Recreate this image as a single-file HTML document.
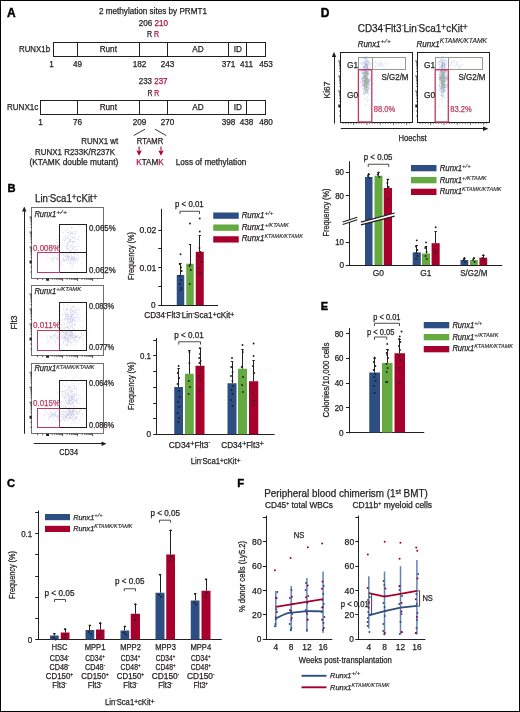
<!DOCTYPE html>
<html><head><meta charset="utf-8"><style>
html,body{margin:0;padding:0;background:#fff;}
body{width:520px;height:712px;overflow:hidden;}
svg{display:block;font-family:"Liberation Sans",sans-serif;will-change:transform;}
</style></head><body>
<svg width="520" height="712" viewBox="0 0 520 712" fill="#231f20">
<rect x="0" y="0" width="520" height="712" fill="#fff"/>
<text x="7.00" y="17.20" font-size="12" fill="#000" font-weight="bold" stroke="#000" stroke-width="0.4">A</text>
<text x="99.00" y="14.00" font-size="8.2" textLength="108.00" lengthAdjust="spacingAndGlyphs" stroke="#231f20" stroke-width="0.25">2 methylation sites by PRMT1</text>
<text x="138.75" y="25.90" font-size="8.2" textLength="29.25" lengthAdjust="spacingAndGlyphs" stroke="#231f20" stroke-width="0.25">206 <tspan fill="#b3123f" stroke="#b3123f">210</tspan></text>
<text x="147.00" y="37.40" font-size="8.2" textLength="12.25" lengthAdjust="spacingAndGlyphs" stroke="#231f20" stroke-width="0.25">R <tspan fill="#b3123f" stroke="#b3123f">R</tspan></text>
<rect x="53.50" y="42.50" width="212.00" height="14.00" fill="none" stroke="#231f20" stroke-width="1"/>
<line x1="77.50" y1="42.50" x2="77.50" y2="56.50" stroke="#231f20" stroke-width="1"/>
<line x1="139.50" y1="42.50" x2="139.50" y2="56.50" stroke="#231f20" stroke-width="1"/>
<line x1="167.50" y1="42.50" x2="167.50" y2="56.50" stroke="#231f20" stroke-width="1"/>
<line x1="228.50" y1="42.50" x2="228.50" y2="56.50" stroke="#231f20" stroke-width="1"/>
<line x1="246.50" y1="42.50" x2="246.50" y2="56.50" stroke="#231f20" stroke-width="1"/>
<text x="19.00" y="52.40" font-size="8.2" textLength="31.00" lengthAdjust="spacingAndGlyphs" stroke="#231f20" stroke-width="0.25">RUNX1b</text>
<text x="108.30" y="52.00" font-size="8.2" text-anchor="middle" stroke="#231f20" stroke-width="0.25">Runt</text>
<text x="198.00" y="52.00" font-size="8.2" text-anchor="middle" stroke="#231f20" stroke-width="0.25">AD</text>
<text x="237.80" y="52.00" font-size="8.2" text-anchor="middle" stroke="#231f20" stroke-width="0.25">ID</text>
<text x="51.50" y="66.90" font-size="8.2" text-anchor="middle" stroke="#231f20" stroke-width="0.25">1</text>
<text x="77.50" y="66.90" font-size="8.2" text-anchor="middle" stroke="#231f20" stroke-width="0.25">49</text>
<text x="139.50" y="66.90" font-size="8.2" text-anchor="middle" stroke="#231f20" stroke-width="0.25">182</text>
<text x="167.50" y="66.90" font-size="8.2" text-anchor="middle" stroke="#231f20" stroke-width="0.25">243</text>
<text x="228.50" y="66.90" font-size="8.2" text-anchor="middle" stroke="#231f20" stroke-width="0.25">371</text>
<text x="246.50" y="66.90" font-size="8.2" text-anchor="middle" stroke="#231f20" stroke-width="0.25">411</text>
<text x="266.00" y="66.90" font-size="8.2" text-anchor="middle" stroke="#231f20" stroke-width="0.25">453</text>
<text x="138.75" y="83.60" font-size="8.2" textLength="28.75" lengthAdjust="spacingAndGlyphs" stroke="#231f20" stroke-width="0.25">233 <tspan fill="#b3123f" stroke="#b3123f">237</tspan></text>
<text x="147.50" y="95.50" font-size="8.2" textLength="11.75" lengthAdjust="spacingAndGlyphs" stroke="#231f20" stroke-width="0.25">R <tspan fill="#b3123f" stroke="#b3123f">R</tspan></text>
<rect x="40.50" y="100.50" width="225.00" height="14.00" fill="none" stroke="#231f20" stroke-width="1"/>
<line x1="77.50" y1="100.50" x2="77.50" y2="114.50" stroke="#231f20" stroke-width="1"/>
<line x1="139.50" y1="100.50" x2="139.50" y2="114.50" stroke="#231f20" stroke-width="1"/>
<line x1="167.50" y1="100.50" x2="167.50" y2="114.50" stroke="#231f20" stroke-width="1"/>
<line x1="228.50" y1="100.50" x2="228.50" y2="114.50" stroke="#231f20" stroke-width="1"/>
<line x1="246.50" y1="100.50" x2="246.50" y2="114.50" stroke="#231f20" stroke-width="1"/>
<text x="7.00" y="110.20" font-size="8.2" textLength="31.25" lengthAdjust="spacingAndGlyphs" stroke="#231f20" stroke-width="0.25">RUNX1c</text>
<text x="108.30" y="110.00" font-size="8.2" text-anchor="middle" stroke="#231f20" stroke-width="0.25">Runt</text>
<text x="198.00" y="110.00" font-size="8.2" text-anchor="middle" stroke="#231f20" stroke-width="0.25">AD</text>
<text x="237.80" y="110.00" font-size="8.2" text-anchor="middle" stroke="#231f20" stroke-width="0.25">ID</text>
<text x="40.50" y="124.60" font-size="8.2" text-anchor="middle" stroke="#231f20" stroke-width="0.25">1</text>
<text x="77.50" y="124.60" font-size="8.2" text-anchor="middle" stroke="#231f20" stroke-width="0.25">76</text>
<text x="139.50" y="124.60" font-size="8.2" text-anchor="middle" stroke="#231f20" stroke-width="0.25">209</text>
<text x="167.50" y="124.60" font-size="8.2" text-anchor="middle" stroke="#231f20" stroke-width="0.25">270</text>
<text x="228.50" y="124.60" font-size="8.2" text-anchor="middle" stroke="#231f20" stroke-width="0.25">398</text>
<text x="246.50" y="124.60" font-size="8.2" text-anchor="middle" stroke="#231f20" stroke-width="0.25">438</text>
<text x="266.00" y="124.60" font-size="8.2" text-anchor="middle" stroke="#231f20" stroke-width="0.25">480</text>
<line x1="133.75" y1="135.50" x2="145.00" y2="129.25" stroke="#231f20" stroke-width="0.9"/>
<line x1="155.00" y1="129.25" x2="166.25" y2="135.50" stroke="#231f20" stroke-width="0.9"/>
<text x="118.25" y="144.10" font-size="8.2" text-anchor="end" textLength="37.00" lengthAdjust="spacingAndGlyphs" stroke="#231f20" stroke-width="0.25">RUNX1 wt</text>
<text x="136.75" y="144.10" font-size="8.2" textLength="26.50" lengthAdjust="spacingAndGlyphs" stroke="#231f20" stroke-width="0.25">RTAMR</text>
<text x="35.00" y="155.10" font-size="8.2" textLength="80.00" lengthAdjust="spacingAndGlyphs" stroke="#231f20" stroke-width="0.25">RUNX1 R233K/R237K</text>
<text x="29.50" y="164.80" font-size="8.2" textLength="88.75" lengthAdjust="spacingAndGlyphs" stroke="#231f20" stroke-width="0.25">(KTAMK double mutant)</text>
<text x="136.25" y="164.80" font-size="8.2" textLength="27.50" lengthAdjust="spacingAndGlyphs" stroke="#231f20" stroke-width="0.25"><tspan fill="#b3123f" stroke="#b3123f">K</tspan>TAM<tspan fill="#b3123f" stroke="#b3123f">K</tspan></text>
<text x="175.75" y="164.80" font-size="8.2" textLength="70.50" lengthAdjust="spacingAndGlyphs" stroke="#231f20" stroke-width="0.25">Loss of methylation</text>
<line x1="139.10" y1="146.60" x2="139.10" y2="152.00" stroke="#b8304e" stroke-width="1.3"/>
<path d="M136.30 150.2 L139.10 155.8 L141.90 150.2 L139.10 151.6 Z" fill="#a8002c"/>
<line x1="161.00" y1="146.60" x2="161.00" y2="152.00" stroke="#b8304e" stroke-width="1.3"/>
<path d="M158.20 150.2 L161.00 155.8 L163.80 150.2 L161.00 151.6 Z" fill="#a8002c"/>
<text x="7.50" y="191.80" font-size="11.2" fill="#000" font-weight="bold" stroke="#000" stroke-width="0.4">B</text>
<text x="35.00" y="201.80" font-size="10" textLength="62.50" lengthAdjust="spacingAndGlyphs" stroke="#231f20" stroke-width="0.25"><tspan dy="-0.00">Lin</tspan><tspan dy="-4.00" font-size="5.50">-</tspan><tspan dy="4.00">Sca1</tspan><tspan dy="-2.00" font-size="8.40">+</tspan><tspan dy="2.00">cKit</tspan><tspan dy="-2.00" font-size="8.40">+</tspan></text>
<rect x="31.50" y="207.50" width="72.00" height="71.00" fill="none" stroke="#707070" stroke-width="1"/>
<path d="M31.75 267.00h-1.5 M31.75 272.00h-1.5 M31.75 257.48h-1.3 M31.75 254.84h-1.3 M31.75 252.97h-1.3 M31.75 251.52h-1.3 M31.75 250.33h-1.3 M31.75 249.32h-1.3 M31.75 248.45h-1.3 M31.75 247.69h-1.3 M31.75 247.00h-2.5 M31.75 242.48h-1.3 M31.75 239.84h-1.3 M31.75 237.97h-1.3 M31.75 236.52h-1.3 M31.75 235.33h-1.3 M31.75 234.32h-1.3 M31.75 233.45h-1.3 M31.75 232.69h-1.3 M31.75 232.00h-2.5 M31.75 227.48h-1.3 M31.75 224.84h-1.3 M31.75 222.97h-1.3 M31.75 221.52h-1.3 M31.75 220.33h-1.3 M31.75 219.32h-1.3 M31.75 218.45h-1.3 M31.75 217.69h-1.3 M31.75 217.00h-2.5 M42.60 278.50v1.5 M37.60 278.50v1.5 M52.12 278.50v1.3 M54.76 278.50v1.3 M56.63 278.50v1.3 M58.08 278.50v1.3 M59.27 278.50v1.3 M60.28 278.50v1.3 M61.15 278.50v1.3 M61.91 278.50v1.3 M62.60 278.50v2.5 M67.12 278.50v1.3 M69.76 278.50v1.3 M71.63 278.50v1.3 M73.08 278.50v1.3 M74.27 278.50v1.3 M75.28 278.50v1.3 M76.15 278.50v1.3 M76.91 278.50v1.3 M77.60 278.50v2.5 M82.12 278.50v1.3 M84.76 278.50v1.3 M86.63 278.50v1.3 M88.08 278.50v1.3 M89.27 278.50v1.3 M90.28 278.50v1.3 M91.15 278.50v1.3 M91.91 278.50v1.3 M92.60 278.50v2.5" stroke="#231f20" stroke-width="0.7" fill="none"/>
<path d="M29.55 260.50h2.2v3h-2.2z M46.10 278.50h3v2.2h-3z" fill="#231f20"/>
<path d="M75.30 250.65h0.7 M69.80 235.15h0.7 M64.59 240.72h0.7 M64.90 230.44h0.7 M70.40 241.43h0.7 M71.96 234.10h0.7 M69.52 240.05h0.7 M62.72 244.27h0.7 M70.94 257.22h0.7 M70.41 239.49h0.7 M75.05 241.89h0.7 M73.59 237.94h0.7 M70.48 247.67h0.7 M72.63 241.40h0.7 M64.63 243.62h0.7 M69.85 245.54h0.7 M70.47 248.12h0.7 M69.27 241.91h0.7 M72.50 232.89h0.7 M67.69 237.00h0.7 M78.41 239.85h0.7 M72.43 244.84h0.7 M68.24 229.64h0.7 M73.84 237.65h0.7 M72.73 231.36h0.7 M67.53 249.30h0.7 M75.94 231.38h0.7 M63.50 240.19h0.7 M72.78 241.62h0.7 M70.87 233.58h0.7 M72.14 248.32h0.7 M67.54 230.47h0.7 M66.09 245.83h0.7 M61.70 239.86h0.7 M65.04 239.58h0.7 M68.40 240.61h0.7 M76.26 243.44h0.7 M75.50 239.51h0.7 M67.34 243.15h0.7 M56.74 240.22h0.7 M70.22 231.85h0.7 M71.59 236.59h0.7 M58.43 239.01h0.7 M65.10 236.86h0.7 M68.81 249.26h0.7 M69.96 240.30h0.7 M71.25 227.82h0.7 M75.08 232.96h0.7 M71.48 232.61h0.7 M65.11 237.73h0.7 M78.03 245.38h0.7 M66.78 238.51h0.7 M64.32 240.26h0.7 M66.92 245.55h0.7 M63.39 238.16h0.7 M65.71 235.47h0.7 M72.70 241.38h0.7 M72.13 248.82h0.7 M74.67 230.90h0.7 M71.92 228.17h0.7 M69.21 253.93h0.7 M68.63 237.92h0.7 M70.27 240.63h0.7 M69.62 235.20h0.7 M74.37 246.72h0.7 M68.54 242.70h0.7 M72.46 247.73h0.7 M71.27 245.37h0.7 M68.32 233.01h0.7 M67.27 247.63h0.7 M73.90 241.52h0.7 M66.95 242.65h0.7 M76.99 249.98h0.7 M66.42 240.20h0.7 M62.97 232.55h0.7 M70.35 240.67h0.7 M73.84 249.37h0.7 M73.26 249.74h0.7 M67.04 232.60h0.7 M71.75 259.25h0.7 M71.11 232.44h0.7 M70.59 250.48h0.7 M64.85 246.12h0.7 M66.75 249.41h0.7 M73.03 242.63h0.7 M78.50 237.64h0.7 M66.41 253.48h0.7 M65.56 255.89h0.7 M69.32 233.24h0.7 M69.49 241.41h0.7 M70.41 239.16h0.7 M74.37 224.26h0.7 M67.00 238.66h0.7 M77.69 226.55h0.7 M67.97 232.50h0.7 M66.51 244.98h0.7 M71.35 250.58h0.7 M66.80 242.38h0.7 M74.78 246.82h0.7 M67.99 248.40h0.7 M65.34 253.12h0.7 M70.19 239.71h0.7 M70.72 246.44h0.7 M77.34 239.51h0.7 M67.85 244.61h0.7 M65.58 228.63h0.7 M73.26 237.84h0.7 M74.57 233.31h0.7 M56.47 242.48h0.7 M70.20 251.70h0.7 M71.86 242.67h0.7 M72.14 237.93h0.7 M69.85 231.04h0.7 M71.84 234.86h0.7 M67.49 245.40h0.7 M73.62 233.45h0.7 M78.52 236.36h0.7 M73.26 247.16h0.7 M70.51 241.71h0.7 M77.59 246.73h0.7 M71.50 227.73h0.7 M66.14 248.64h0.7 M70.37 233.81h0.7 M66.61 238.36h0.7 M72.59 243.21h0.7 M73.99 234.78h0.7 M73.94 236.99h0.7 M68.15 252.63h0.7 M69.83 239.52h0.7 M68.55 237.81h0.7 M76.52 250.14h0.7 M72.73 241.79h0.7" stroke="#5a66c4" stroke-width="0.7" opacity="0.42"/>
<path d="M82.36 256.48h0.7 M71.67 259.31h0.7 M74.09 253.89h0.7 M67.22 256.17h0.7 M63.59 255.85h0.7 M66.68 257.80h0.7 M64.51 260.28h0.7 M66.49 247.61h0.7 M76.05 257.43h0.7 M65.41 259.74h0.7 M70.76 258.98h0.7 M64.80 259.47h0.7 M61.04 263.85h0.7 M62.54 258.08h0.7 M69.61 259.57h0.7 M68.14 260.49h0.7 M49.51 257.98h0.7 M67.91 256.83h0.7 M77.20 254.93h0.7 M68.33 251.22h0.7 M70.29 252.64h0.7 M60.10 266.63h0.7 M72.67 258.31h0.7 M69.72 253.25h0.7 M62.94 259.83h0.7 M57.01 259.30h0.7 M59.12 258.77h0.7 M62.58 264.56h0.7 M74.44 256.51h0.7 M58.23 255.55h0.7 M68.46 254.81h0.7 M70.36 261.85h0.7 M68.47 256.80h0.7 M73.14 257.29h0.7 M73.52 257.21h0.7 M77.80 257.35h0.7 M62.86 258.69h0.7 M65.25 255.01h0.7 M68.08 261.01h0.7 M56.71 258.19h0.7 M67.94 257.83h0.7 M73.29 253.71h0.7 M72.50 257.55h0.7 M69.44 257.58h0.7 M66.98 256.51h0.7 M71.14 265.87h0.7 M74.75 261.43h0.7 M72.00 256.72h0.7 M72.29 265.79h0.7 M61.77 261.39h0.7 M74.61 259.46h0.7 M73.38 263.41h0.7 M81.36 263.13h0.7 M78.28 259.70h0.7 M73.69 259.16h0.7 M70.75 256.91h0.7 M72.91 263.71h0.7 M68.27 259.48h0.7 M72.65 258.67h0.7 M74.42 259.53h0.7 M62.71 254.98h0.7 M73.28 260.87h0.7 M75.39 259.53h0.7 M70.40 253.08h0.7 M77.04 255.41h0.7 M75.08 254.64h0.7 M65.63 259.23h0.7 M66.95 256.21h0.7 M74.30 261.08h0.7 M71.53 257.51h0.7 M64.77 257.02h0.7 M66.45 258.62h0.7 M73.62 258.12h0.7 M64.99 256.54h0.7 M76.48 259.31h0.7 M70.69 259.72h0.7 M72.69 259.23h0.7 M75.93 261.62h0.7 M53.77 258.28h0.7 M85.75 254.26h0.7 M70.16 262.57h0.7 M69.46 263.48h0.7 M62.48 254.38h0.7 M68.43 256.19h0.7 M63.55 260.79h0.7 M70.98 258.83h0.7 M67.26 259.72h0.7 M68.83 256.24h0.7 M72.32 260.10h0.7 M69.95 261.23h0.7 M63.41 258.29h0.7 M66.61 263.47h0.7 M72.30 266.21h0.7 M78.15 257.50h0.7 M63.48 260.49h0.7 M67.94 258.25h0.7 M63.66 260.90h0.7 M70.52 260.21h0.7 M71.21 255.64h0.7 M57.18 257.85h0.7 M66.00 256.95h0.7 M74.78 258.45h0.7 M77.80 259.44h0.7 M73.28 260.58h0.7 M73.93 254.39h0.7 M75.50 259.18h0.7 M64.13 260.95h0.7 M71.40 263.31h0.7" stroke="#5a66c4" stroke-width="0.7" opacity="0.42"/>
<path d="M53.38 262.93h0.7 M49.27 262.28h0.7 M51.96 259.15h0.7 M60.60 260.19h0.7 M52.83 261.62h0.7 M57.51 259.72h0.7 M55.35 257.37h0.7 M51.53 258.70h0.7 M47.67 256.03h0.7 M46.49 259.20h0.7 M52.31 259.00h0.7 M53.28 256.46h0.7 M52.68 260.40h0.7 M56.00 257.68h0.7 M51.40 254.76h0.7" stroke="#5a66c4" stroke-width="0.7" opacity="0.4"/>
<path d="M70.16 258.09h0.7 M68.16 257.42h0.7 M73.70 257.77h0.7 M76.25 249.99h0.7 M70.27 251.07h0.7 M66.87 254.20h0.7 M70.89 257.81h0.7 M72.03 268.70h0.7 M73.45 245.73h0.7 M70.82 251.56h0.7 M67.94 263.14h0.7 M69.11 243.59h0.7 M71.24 253.55h0.7 M65.30 249.77h0.7 M67.50 255.16h0.7" stroke="#d09060" stroke-width="0.7" opacity="0.4"/>
<rect x="59.50" y="224.50" width="27.00" height="48.00" fill="none" stroke="#231f20" stroke-width="1"/>
<line x1="59.25" y1="252.50" x2="86.75" y2="252.50" stroke="#231f20" stroke-width="1"/>
<rect x="37.50" y="252.50" width="22.00" height="20.00" fill="none" stroke="#bf3a5e" stroke-width="1"/>
<text x="34.40" y="216.70" font-size="8.2" textLength="21.80" lengthAdjust="spacingAndGlyphs" font-style="italic" stroke="#231f20" stroke-width="0.25">Runx1</text>
<text x="56.20" y="213.80" font-size="5.8" textLength="11.00" lengthAdjust="spacingAndGlyphs" font-style="italic" stroke="#231f20" stroke-width="0.12">+/+</text>
<text x="89.00" y="230.80" font-size="8.2" textLength="26.70" lengthAdjust="spacingAndGlyphs" stroke="#231f20" stroke-width="0.25">0.065%</text>
<text x="33.00" y="250.60" font-size="8.2" fill="#bf3a5e" textLength="27.00" lengthAdjust="spacingAndGlyphs" stroke="#bf3a5e" stroke-width="0.25">0.008%</text>
<text x="89.00" y="272.60" font-size="8.2" textLength="26.70" lengthAdjust="spacingAndGlyphs" stroke="#231f20" stroke-width="0.25">0.062%</text>
<rect x="31.50" y="285.50" width="72.00" height="70.00" fill="none" stroke="#707070" stroke-width="1"/>
<path d="M31.75 344.00h-1.5 M31.75 349.00h-1.5 M31.75 334.48h-1.3 M31.75 331.84h-1.3 M31.75 329.97h-1.3 M31.75 328.52h-1.3 M31.75 327.33h-1.3 M31.75 326.32h-1.3 M31.75 325.45h-1.3 M31.75 324.69h-1.3 M31.75 324.00h-2.5 M31.75 319.48h-1.3 M31.75 316.84h-1.3 M31.75 314.97h-1.3 M31.75 313.52h-1.3 M31.75 312.33h-1.3 M31.75 311.32h-1.3 M31.75 310.45h-1.3 M31.75 309.69h-1.3 M31.75 309.00h-2.5 M31.75 304.48h-1.3 M31.75 301.84h-1.3 M31.75 299.97h-1.3 M31.75 298.52h-1.3 M31.75 297.33h-1.3 M31.75 296.32h-1.3 M31.75 295.45h-1.3 M31.75 294.69h-1.3 M31.75 294.00h-2.5 M42.60 355.50v1.5 M37.60 355.50v1.5 M52.12 355.50v1.3 M54.76 355.50v1.3 M56.63 355.50v1.3 M58.08 355.50v1.3 M59.27 355.50v1.3 M60.28 355.50v1.3 M61.15 355.50v1.3 M61.91 355.50v1.3 M62.60 355.50v2.5 M67.12 355.50v1.3 M69.76 355.50v1.3 M71.63 355.50v1.3 M73.08 355.50v1.3 M74.27 355.50v1.3 M75.28 355.50v1.3 M76.15 355.50v1.3 M76.91 355.50v1.3 M77.60 355.50v2.5 M82.12 355.50v1.3 M84.76 355.50v1.3 M86.63 355.50v1.3 M88.08 355.50v1.3 M89.27 355.50v1.3 M90.28 355.50v1.3 M91.15 355.50v1.3 M91.91 355.50v1.3 M92.60 355.50v2.5" stroke="#231f20" stroke-width="0.7" fill="none"/>
<path d="M29.55 337.50h2.2v3h-2.2z M46.10 355.50h3v2.2h-3z" fill="#231f20"/>
<path d="M69.68 321.75h0.7 M67.43 320.97h0.7 M73.67 321.38h0.7 M76.53 312.30h0.7 M69.80 313.56h0.7 M65.97 317.21h0.7 M70.50 321.43h0.7 M71.79 334.14h0.7 M73.38 307.34h0.7 M70.42 314.14h0.7 M67.18 327.64h0.7 M68.50 304.84h0.7 M70.90 316.46h0.7 M64.22 312.05h0.7 M66.69 318.34h0.7 M67.58 319.00h0.7 M77.76 312.90h0.7 M65.87 316.76h0.7 M74.43 313.56h0.7 M75.95 309.34h0.7 M64.85 318.12h0.7 M65.61 314.17h0.7 M71.53 323.57h0.7 M70.01 316.58h0.7 M75.55 321.32h0.7 M68.44 327.00h0.7 M65.44 319.65h0.7 M72.47 318.42h0.7 M66.91 320.95h0.7 M67.07 314.33h0.7 M64.90 327.63h0.7 M67.03 326.58h0.7 M71.21 316.67h0.7 M72.50 320.41h0.7 M70.09 308.87h0.7 M69.82 324.76h0.7 M71.69 325.47h0.7 M76.21 321.38h0.7 M78.39 307.91h0.7 M68.42 300.83h0.7 M73.19 319.16h0.7 M77.10 315.94h0.7 M60.38 327.45h0.7 M63.46 309.63h0.7 M68.71 322.89h0.7 M67.21 319.80h0.7 M61.04 330.61h0.7 M69.20 319.34h0.7 M72.14 319.69h0.7 M70.40 312.00h0.7 M68.99 321.56h0.7 M74.20 317.66h0.7 M69.91 320.86h0.7 M72.07 319.95h0.7 M68.36 314.93h0.7 M74.56 320.57h0.7 M69.59 342.84h0.7 M73.47 324.47h0.7 M70.19 311.40h0.7 M74.61 317.88h0.7 M69.74 325.69h0.7 M74.08 320.18h0.7 M69.58 333.19h0.7 M72.08 311.32h0.7 M72.88 319.56h0.7 M69.65 323.28h0.7 M70.56 332.54h0.7 M70.42 320.27h0.7 M74.73 314.55h0.7 M74.06 318.08h0.7 M74.83 312.56h0.7 M71.39 307.31h0.7 M67.51 318.61h0.7 M71.73 332.32h0.7 M77.77 309.13h0.7 M66.09 327.26h0.7 M71.48 308.94h0.7 M71.68 310.62h0.7 M65.64 309.70h0.7 M68.33 334.24h0.7 M71.20 317.75h0.7 M80.81 315.27h0.7 M68.83 316.66h0.7 M71.39 316.33h0.7 M76.05 316.46h0.7 M72.03 320.07h0.7 M65.64 311.68h0.7 M69.27 302.47h0.7 M69.57 319.06h0.7 M70.15 317.97h0.7 M71.09 316.07h0.7 M72.39 307.12h0.7 M73.60 312.35h0.7 M71.68 315.26h0.7 M67.59 312.98h0.7 M75.53 310.91h0.7 M64.09 320.02h0.7 M70.67 318.80h0.7 M65.18 313.96h0.7 M73.57 311.30h0.7 M72.25 323.59h0.7 M70.10 310.03h0.7 M78.06 319.38h0.7 M70.39 315.89h0.7 M65.25 316.65h0.7 M70.40 312.62h0.7 M70.03 326.54h0.7 M71.47 317.84h0.7 M74.22 324.92h0.7 M73.55 312.96h0.7 M61.37 324.07h0.7 M69.78 315.93h0.7 M71.68 315.36h0.7 M66.74 331.11h0.7 M62.38 324.36h0.7 M74.05 330.88h0.7 M70.64 322.06h0.7 M65.41 318.73h0.7 M60.09 314.56h0.7 M69.38 317.78h0.7 M67.36 326.63h0.7 M62.39 319.44h0.7 M67.72 318.77h0.7 M69.75 332.07h0.7 M64.73 327.85h0.7 M75.79 317.62h0.7 M66.76 309.90h0.7 M65.65 332.76h0.7 M59.80 321.67h0.7 M66.40 331.72h0.7 M70.92 309.11h0.7 M67.18 319.87h0.7 M70.06 311.92h0.7 M68.24 315.31h0.7 M71.68 320.43h0.7 M70.52 314.42h0.7 M73.04 314.60h0.7 M65.79 315.51h0.7 M68.05 316.37h0.7 M60.86 327.94h0.7 M72.30 327.72h0.7 M67.74 323.75h0.7 M70.40 318.70h0.7 M77.54 314.38h0.7 M72.08 306.45h0.7 M72.03 317.31h0.7 M64.96 314.37h0.7 M60.01 311.11h0.7 M70.26 300.13h0.7 M74.35 325.31h0.7 M66.14 308.17h0.7 M63.23 309.59h0.7 M66.14 333.67h0.7 M64.44 323.76h0.7 M75.10 311.91h0.7 M68.31 323.21h0.7 M66.57 327.21h0.7 M79.13 318.17h0.7 M65.81 322.66h0.7 M71.01 313.29h0.7 M68.88 319.10h0.7 M71.76 326.48h0.7 M67.33 309.44h0.7 M62.23 331.45h0.7 M67.63 315.65h0.7 M80.56 326.30h0.7 M79.58 317.30h0.7 M66.41 314.82h0.7 M72.42 321.44h0.7 M71.30 334.32h0.7 M75.59 310.91h0.7 M71.47 322.65h0.7 M66.17 334.71h0.7 M73.62 329.08h0.7 M67.11 310.51h0.7 M72.90 317.12h0.7 M66.90 317.87h0.7 M70.44 319.52h0.7 M68.57 321.76h0.7 M82.56 326.73h0.7 M67.20 332.77h0.7 M67.33 307.66h0.7 M63.26 304.19h0.7 M74.68 310.78h0.7 M63.06 314.54h0.7 M68.56 309.75h0.7 M66.90 318.44h0.7 M72.39 311.82h0.7 M71.99 320.25h0.7 M71.94 314.69h0.7 M64.21 325.19h0.7 M72.09 313.73h0.7 M65.92 323.29h0.7 M78.56 321.01h0.7 M80.84 320.62h0.7 M71.01 321.84h0.7 M74.37 307.89h0.7 M70.14 327.33h0.7 M62.41 320.13h0.7 M72.83 330.51h0.7 M76.54 318.25h0.7 M78.82 310.68h0.7 M63.16 327.83h0.7 M72.51 310.45h0.7 M74.39 324.57h0.7 M72.76 315.35h0.7 M63.71 306.60h0.7 M68.50 317.37h0.7 M67.16 314.53h0.7 M73.66 310.47h0.7 M66.12 332.42h0.7 M66.60 313.99h0.7 M74.29 305.76h0.7 M76.80 309.48h0.7 M65.70 309.41h0.7 M65.14 313.26h0.7 M73.69 317.99h0.7 M75.70 323.92h0.7 M63.85 318.61h0.7 M66.71 315.44h0.7" stroke="#5a66c4" stroke-width="0.7" opacity="0.42"/>
<path d="M63.02 332.98h0.7 M73.18 328.97h0.7 M68.71 329.10h0.7 M75.56 337.71h0.7 M76.96 335.24h0.7 M71.69 336.00h0.7 M65.44 337.51h0.7 M62.59 335.76h0.7 M73.33 337.20h0.7 M67.24 344.66h0.7 M69.82 334.95h0.7 M70.38 335.17h0.7 M67.38 335.77h0.7 M80.64 337.08h0.7 M70.47 339.36h0.7 M80.59 336.22h0.7 M66.07 345.66h0.7 M61.47 335.71h0.7 M73.17 344.99h0.7 M64.28 328.50h0.7 M73.14 335.17h0.7 M67.37 338.61h0.7 M70.73 338.02h0.7 M67.13 341.51h0.7 M77.78 337.11h0.7 M67.01 339.57h0.7 M72.13 333.36h0.7 M66.97 340.67h0.7 M68.97 335.85h0.7 M70.67 336.88h0.7 M69.49 330.24h0.7 M79.12 337.70h0.7 M64.68 340.43h0.7 M71.20 337.06h0.7 M75.26 344.91h0.7 M72.54 342.55h0.7 M81.37 333.43h0.7 M66.62 339.72h0.7 M60.11 336.06h0.7 M76.61 340.65h0.7 M72.69 330.37h0.7 M82.43 338.93h0.7 M73.72 338.73h0.7 M60.06 331.98h0.7 M62.81 343.71h0.7 M64.93 336.15h0.7 M68.10 339.00h0.7 M72.25 337.94h0.7 M62.56 326.01h0.7 M70.42 337.94h0.7 M76.27 336.64h0.7 M66.14 338.44h0.7 M60.95 333.35h0.7 M63.97 338.01h0.7 M81.00 339.67h0.7 M75.78 337.83h0.7 M71.03 335.43h0.7 M67.95 328.50h0.7 M62.89 332.50h0.7 M74.10 339.32h0.7 M75.78 342.45h0.7 M67.82 340.69h0.7 M80.26 336.97h0.7 M75.48 336.42h0.7 M60.63 337.42h0.7 M64.98 337.38h0.7 M66.95 338.12h0.7 M57.75 344.29h0.7 M76.98 335.77h0.7 M64.50 337.01h0.7 M73.22 338.48h0.7 M71.71 330.11h0.7 M63.28 341.70h0.7 M70.82 331.68h0.7 M64.72 331.93h0.7 M63.88 341.13h0.7 M68.28 340.96h0.7 M70.54 331.68h0.7 M65.89 345.13h0.7 M65.23 333.27h0.7 M76.40 337.32h0.7 M69.46 342.22h0.7 M59.64 338.49h0.7 M63.59 332.00h0.7 M64.94 341.11h0.7 M68.71 330.45h0.7 M63.28 342.45h0.7 M75.25 333.10h0.7 M83.12 335.69h0.7 M62.79 336.51h0.7 M74.76 342.76h0.7 M75.29 335.47h0.7 M66.34 331.79h0.7 M69.08 334.87h0.7 M70.88 332.47h0.7 M66.59 333.85h0.7 M62.73 332.76h0.7 M63.77 332.77h0.7 M72.70 337.36h0.7 M62.07 338.84h0.7 M71.12 342.23h0.7 M68.41 336.25h0.7 M65.62 337.45h0.7 M72.28 337.63h0.7 M68.07 339.02h0.7 M70.02 337.88h0.7 M64.25 337.74h0.7 M63.89 333.98h0.7 M70.41 344.54h0.7 M75.11 337.01h0.7 M68.49 340.54h0.7 M77.28 341.37h0.7 M68.45 337.68h0.7 M67.64 335.98h0.7 M64.69 336.11h0.7 M57.39 332.71h0.7 M71.89 333.68h0.7 M72.54 332.37h0.7 M67.42 338.42h0.7 M63.66 334.44h0.7 M83.41 334.56h0.7 M65.53 334.95h0.7 M69.69 336.91h0.7 M75.03 339.84h0.7 M67.23 335.72h0.7 M61.54 331.64h0.7 M65.34 339.62h0.7 M70.18 339.87h0.7 M74.80 336.41h0.7 M81.31 335.13h0.7 M65.98 335.46h0.7 M75.90 336.51h0.7 M65.34 338.55h0.7 M75.87 336.60h0.7 M68.08 340.88h0.7 M75.03 340.38h0.7 M65.20 338.01h0.7 M71.54 330.58h0.7 M76.26 337.36h0.7 M67.58 345.10h0.7 M70.32 334.42h0.7 M69.15 339.02h0.7 M74.07 336.80h0.7 M64.64 334.51h0.7 M64.91 333.24h0.7 M69.39 335.25h0.7 M69.80 334.05h0.7 M64.63 336.34h0.7 M67.54 341.12h0.7 M64.42 337.74h0.7 M69.27 332.32h0.7 M73.59 337.61h0.7 M57.72 339.15h0.7 M74.77 334.15h0.7 M79.01 337.56h0.7 M63.03 339.01h0.7 M67.48 332.22h0.7 M57.46 337.88h0.7 M65.37 339.30h0.7 M71.67 335.14h0.7 M66.52 343.31h0.7 M79.07 339.68h0.7 M67.50 333.50h0.7 M67.33 342.94h0.7 M72.08 335.97h0.7 M62.62 337.60h0.7 M64.57 337.05h0.7 M73.66 340.82h0.7 M70.28 335.78h0.7 M70.77 343.43h0.7 M71.61 332.01h0.7 M78.19 337.90h0.7 M89.00 335.33h0.7 M68.97 335.94h0.7 M71.62 334.94h0.7 M61.24 330.15h0.7 M68.81 335.17h0.7 M66.25 344.55h0.7 M73.95 340.88h0.7 M66.70 338.07h0.7" stroke="#5a66c4" stroke-width="0.7" opacity="0.42"/>
<path d="M55.00 333.53h0.7 M49.90 338.18h0.7 M58.90 338.01h0.7 M46.36 338.78h0.7 M48.21 341.07h0.7 M51.98 342.45h0.7 M52.48 335.44h0.7 M47.12 337.10h0.7 M54.78 340.97h0.7 M54.07 336.15h0.7 M55.00 334.41h0.7 M55.02 336.12h0.7 M58.99 340.48h0.7 M54.47 335.45h0.7 M55.20 338.92h0.7 M50.80 336.44h0.7 M58.08 337.00h0.7 M54.77 341.48h0.7 M47.06 342.47h0.7 M57.05 336.38h0.7 M49.19 334.95h0.7 M56.74 331.57h0.7 M56.73 338.42h0.7 M50.27 336.73h0.7 M51.53 337.42h0.7 M56.56 335.91h0.7 M57.38 340.47h0.7 M51.99 339.53h0.7 M50.83 338.14h0.7 M55.00 342.85h0.7 M52.80 337.62h0.7 M53.13 337.54h0.7 M48.69 342.70h0.7 M50.51 336.53h0.7 M50.15 339.73h0.7 M64.87 345.59h0.7 M56.96 338.87h0.7 M52.91 335.48h0.7 M55.98 337.78h0.7 M61.37 337.31h0.7" stroke="#5a66c4" stroke-width="0.7" opacity="0.4"/>
<path d="M68.98 336.57h0.7 M69.10 331.61h0.7 M66.28 332.22h0.7 M74.45 336.04h0.7 M74.15 334.99h0.7 M71.58 334.61h0.7 M63.34 338.63h0.7 M72.03 336.49h0.7 M63.23 323.04h0.7 M66.44 330.69h0.7 M71.22 333.22h0.7 M72.08 329.65h0.7 M71.23 335.86h0.7 M67.36 343.81h0.7 M72.23 340.68h0.7 M67.52 329.06h0.7 M68.62 332.86h0.7 M72.53 334.99h0.7 M68.21 327.76h0.7 M67.92 340.83h0.7 M66.77 334.97h0.7 M71.71 324.56h0.7 M70.19 341.34h0.7 M61.94 331.57h0.7 M69.58 328.60h0.7" stroke="#d09060" stroke-width="0.7" opacity="0.4"/>
<rect x="59.50" y="302.50" width="27.00" height="48.00" fill="none" stroke="#231f20" stroke-width="1"/>
<line x1="59.25" y1="330.50" x2="86.75" y2="330.50" stroke="#231f20" stroke-width="1"/>
<rect x="37.50" y="330.50" width="22.00" height="20.00" fill="none" stroke="#bf3a5e" stroke-width="1"/>
<text x="34.40" y="294.00" font-size="8.2" textLength="21.80" lengthAdjust="spacingAndGlyphs" font-style="italic" stroke="#231f20" stroke-width="0.25">Runx1</text>
<text x="56.20" y="291.10" font-size="5.8" textLength="25.00" lengthAdjust="spacingAndGlyphs" font-style="italic" stroke="#231f20" stroke-width="0.12">+/KTAMK</text>
<text x="89.00" y="308.50" font-size="8.2" textLength="25.20" lengthAdjust="spacingAndGlyphs" stroke="#231f20" stroke-width="0.25">0.083%</text>
<text x="33.00" y="328.10" font-size="8.2" fill="#bf3a5e" textLength="27.00" lengthAdjust="spacingAndGlyphs" stroke="#bf3a5e" stroke-width="0.25">0.011%</text>
<text x="89.00" y="349.80" font-size="8.2" textLength="25.20" lengthAdjust="spacingAndGlyphs" stroke="#231f20" stroke-width="0.25">0.077%</text>
<rect x="31.50" y="363.50" width="72.00" height="70.00" fill="none" stroke="#707070" stroke-width="1"/>
<path d="M31.75 422.25h-1.5 M31.75 427.25h-1.5 M31.75 412.73h-1.3 M31.75 410.09h-1.3 M31.75 408.22h-1.3 M31.75 406.77h-1.3 M31.75 405.58h-1.3 M31.75 404.57h-1.3 M31.75 403.70h-1.3 M31.75 402.94h-1.3 M31.75 402.25h-2.5 M31.75 397.73h-1.3 M31.75 395.09h-1.3 M31.75 393.22h-1.3 M31.75 391.77h-1.3 M31.75 390.58h-1.3 M31.75 389.57h-1.3 M31.75 388.70h-1.3 M31.75 387.94h-1.3 M31.75 387.25h-2.5 M31.75 382.73h-1.3 M31.75 380.09h-1.3 M31.75 378.22h-1.3 M31.75 376.77h-1.3 M31.75 375.58h-1.3 M31.75 374.57h-1.3 M31.75 373.70h-1.3 M31.75 372.94h-1.3 M31.75 372.25h-2.5 M42.60 433.75v1.5 M37.60 433.75v1.5 M52.12 433.75v1.3 M54.76 433.75v1.3 M56.63 433.75v1.3 M58.08 433.75v1.3 M59.27 433.75v1.3 M60.28 433.75v1.3 M61.15 433.75v1.3 M61.91 433.75v1.3 M62.60 433.75v2.5 M67.12 433.75v1.3 M69.76 433.75v1.3 M71.63 433.75v1.3 M73.08 433.75v1.3 M74.27 433.75v1.3 M75.28 433.75v1.3 M76.15 433.75v1.3 M76.91 433.75v1.3 M77.60 433.75v2.5 M82.12 433.75v1.3 M84.76 433.75v1.3 M86.63 433.75v1.3 M88.08 433.75v1.3 M89.27 433.75v1.3 M90.28 433.75v1.3 M91.15 433.75v1.3 M91.91 433.75v1.3 M92.60 433.75v2.5" stroke="#231f20" stroke-width="0.7" fill="none"/>
<path d="M29.55 415.75h2.2v3h-2.2z M46.10 433.75h3v2.2h-3z" fill="#231f20"/>
<path d="M68.35 399.58h0.7 M68.48 393.79h0.7 M65.31 394.51h0.7 M74.50 398.97h0.7 M74.17 397.74h0.7 M71.28 397.30h0.7 M62.00 401.99h0.7 M71.78 399.49h0.7 M61.89 383.79h0.7 M65.50 392.72h0.7 M70.87 395.68h0.7 M71.84 391.50h0.7 M70.89 398.76h0.7 M66.52 408.02h0.7 M72.00 404.38h0.7 M66.71 390.82h0.7 M67.95 395.26h0.7 M72.34 397.74h0.7 M67.49 389.30h0.7 M67.16 404.55h0.7 M65.86 397.71h0.7 M71.42 385.57h0.7 M69.72 405.14h0.7 M60.44 393.75h0.7 M69.02 390.28h0.7 M71.74 395.56h0.7 M62.91 401.79h0.7 M72.51 402.62h0.7 M75.98 398.54h0.7 M70.04 386.91h0.7 M72.27 391.72h0.7 M67.46 387.15h0.7 M65.15 392.28h0.7 M75.30 381.78h0.7 M62.94 397.68h0.7 M76.00 400.05h0.7 M60.95 378.37h0.7 M71.11 390.85h0.7 M64.46 402.84h0.7 M74.46 397.10h0.7 M70.61 399.04h0.7 M76.67 400.33h0.7 M71.83 399.83h0.7 M62.44 404.97h0.7 M73.80 399.71h0.7 M60.62 391.56h0.7 M73.29 383.32h0.7 M68.67 403.14h0.7 M63.60 407.27h0.7 M71.98 394.95h0.7 M70.96 400.55h0.7 M70.04 404.02h0.7 M66.52 393.10h0.7 M74.19 396.19h0.7 M65.54 402.63h0.7 M76.09 392.89h0.7 M63.29 395.06h0.7 M68.83 393.91h0.7 M75.82 388.81h0.7 M75.17 387.12h0.7 M65.96 400.42h0.7 M74.58 402.01h0.7 M71.05 397.00h0.7 M70.19 400.03h0.7 M68.71 397.94h0.7 M72.08 396.01h0.7 M72.94 399.96h0.7 M78.55 398.27h0.7 M67.58 393.39h0.7 M69.44 402.47h0.7 M67.99 398.70h0.7 M77.77 378.05h0.7 M64.44 397.71h0.7 M71.29 397.67h0.7 M67.56 400.59h0.7 M70.77 392.35h0.7 M80.44 398.49h0.7 M67.01 395.30h0.7 M68.48 395.56h0.7 M57.22 392.59h0.7 M74.04 387.82h0.7 M69.20 402.67h0.7 M73.35 406.44h0.7 M61.84 393.53h0.7 M67.97 400.36h0.7 M74.41 377.22h0.7 M74.40 385.87h0.7 M72.57 385.56h0.7 M70.29 404.36h0.7 M68.83 397.34h0.7 M73.09 396.99h0.7 M69.10 406.73h0.7 M74.22 393.94h0.7 M81.85 387.97h0.7 M73.62 394.14h0.7 M70.10 400.94h0.7 M70.50 400.47h0.7 M62.63 385.43h0.7 M72.27 389.26h0.7 M64.88 385.71h0.7 M75.20 401.23h0.7 M76.13 389.44h0.7 M69.50 388.02h0.7 M72.95 407.13h0.7 M65.49 406.92h0.7 M73.95 394.76h0.7 M60.63 405.85h0.7 M69.07 391.78h0.7 M71.30 398.87h0.7 M76.24 388.86h0.7 M74.61 406.41h0.7 M76.04 394.74h0.7 M66.15 403.13h0.7 M70.02 396.87h0.7 M75.91 394.16h0.7 M59.16 393.29h0.7 M61.16 401.73h0.7 M70.93 391.72h0.7 M69.46 401.83h0.7 M69.86 405.29h0.7 M69.22 403.28h0.7 M76.21 407.27h0.7 M66.48 402.16h0.7 M61.06 388.42h0.7 M60.67 403.48h0.7 M63.96 395.91h0.7 M68.64 395.80h0.7 M66.84 397.64h0.7 M77.56 396.31h0.7 M71.89 403.00h0.7 M68.61 387.18h0.7 M67.00 403.52h0.7 M62.09 391.82h0.7 M74.03 401.55h0.7 M69.53 401.64h0.7 M70.25 387.75h0.7 M62.46 391.53h0.7 M73.65 392.04h0.7 M65.44 390.60h0.7 M62.61 395.18h0.7 M64.19 398.55h0.7 M58.88 398.29h0.7 M66.61 382.40h0.7 M72.76 394.07h0.7 M59.46 389.87h0.7 M70.81 392.79h0.7 M73.01 401.23h0.7 M72.50 398.29h0.7 M75.50 400.62h0.7 M71.53 381.41h0.7 M73.53 405.17h0.7 M68.16 392.71h0.7 M78.23 383.69h0.7 M71.61 412.97h0.7 M65.33 400.83h0.7 M77.99 395.16h0.7 M72.03 402.32h0.7 M65.42 395.38h0.7 M70.82 401.78h0.7 M69.34 394.63h0.7 M64.93 393.49h0.7 M73.51 396.71h0.7 M65.66 390.11h0.7 M81.50 403.98h0.7 M72.37 377.85h0.7 M72.30 399.36h0.7 M77.08 398.99h0.7 M69.20 399.66h0.7 M60.75 403.23h0.7 M70.96 391.09h0.7 M75.47 408.67h0.7 M63.19 391.34h0.7 M70.81 397.28h0.7 M67.71 389.18h0.7 M79.04 403.26h0.7 M64.13 386.58h0.7 M77.16 402.92h0.7 M77.69 401.67h0.7 M65.58 397.82h0.7 M59.78 390.76h0.7 M69.23 399.66h0.7 M66.23 395.13h0.7 M71.56 398.64h0.7 M72.37 397.46h0.7 M68.04 401.52h0.7 M69.72 390.22h0.7 M66.68 396.00h0.7 M69.01 397.10h0.7 M69.50 397.23h0.7 M68.90 387.19h0.7 M71.40 403.38h0.7 M71.46 394.68h0.7 M71.51 389.24h0.7 M60.97 396.42h0.7 M65.31 401.18h0.7 M64.62 377.60h0.7 M64.82 407.05h0.7 M67.78 386.41h0.7 M66.06 399.65h0.7 M71.74 397.24h0.7 M76.18 400.95h0.7 M69.41 400.18h0.7 M76.95 402.80h0.7 M74.11 388.42h0.7 M68.83 401.11h0.7 M68.17 403.48h0.7 M72.18 402.36h0.7 M68.54 413.82h0.7 M75.08 394.49h0.7 M69.91 414.17h0.7 M67.96 402.12h0.7 M73.91 396.05h0.7 M64.25 397.31h0.7 M71.12 403.91h0.7 M73.02 396.17h0.7 M73.34 399.78h0.7 M70.43 396.39h0.7 M68.40 400.80h0.7 M64.76 391.60h0.7 M69.52 385.75h0.7" stroke="#5a66c4" stroke-width="0.7" opacity="0.42"/>
<path d="M71.55 423.37h0.7 M75.52 418.40h0.7 M73.07 415.85h0.7 M73.27 414.49h0.7 M65.67 411.48h0.7 M63.35 415.69h0.7 M73.18 420.66h0.7 M72.90 415.86h0.7 M73.80 414.85h0.7 M59.58 418.64h0.7 M67.54 415.68h0.7 M68.61 425.31h0.7 M76.56 416.38h0.7 M63.70 418.09h0.7 M65.05 419.06h0.7 M61.53 414.58h0.7 M75.41 411.82h0.7 M70.76 415.49h0.7 M75.51 413.15h0.7 M74.09 422.44h0.7 M61.68 411.81h0.7 M72.81 412.55h0.7 M62.49 420.13h0.7 M75.68 418.96h0.7 M76.39 417.58h0.7 M65.51 406.32h0.7 M73.11 411.05h0.7 M70.51 416.39h0.7 M63.04 413.75h0.7 M80.21 417.78h0.7 M60.96 414.25h0.7 M70.27 417.07h0.7 M74.53 414.74h0.7 M68.89 418.15h0.7 M62.04 419.14h0.7 M72.15 413.13h0.7 M66.86 415.78h0.7 M61.75 406.38h0.7 M72.30 420.20h0.7 M69.22 415.04h0.7 M69.95 411.31h0.7 M72.33 417.78h0.7 M70.15 418.07h0.7 M64.10 415.71h0.7 M65.64 412.97h0.7 M71.42 415.33h0.7 M74.73 417.13h0.7 M63.13 419.39h0.7 M60.87 414.33h0.7 M71.47 414.34h0.7 M72.51 414.70h0.7 M64.07 417.49h0.7 M69.30 411.25h0.7 M69.91 414.44h0.7 M71.44 412.44h0.7 M70.51 413.86h0.7 M78.56 413.22h0.7 M76.73 414.22h0.7 M75.88 422.83h0.7 M67.36 415.02h0.7 M64.41 411.98h0.7 M66.36 414.84h0.7 M74.72 417.70h0.7 M66.77 415.03h0.7 M61.29 416.59h0.7 M68.16 410.64h0.7 M65.41 416.55h0.7 M70.06 416.79h0.7 M67.02 415.06h0.7 M68.16 409.07h0.7 M68.60 414.02h0.7 M65.65 417.31h0.7 M81.51 419.58h0.7 M69.73 410.37h0.7 M68.48 412.25h0.7 M70.37 418.74h0.7 M69.20 409.45h0.7 M77.07 414.70h0.7 M77.12 411.37h0.7 M83.48 410.15h0.7 M70.26 417.39h0.7 M55.07 411.69h0.7 M60.58 420.60h0.7 M73.41 411.09h0.7 M59.75 408.29h0.7 M70.46 411.63h0.7 M71.55 412.60h0.7 M60.00 420.94h0.7 M72.22 412.02h0.7 M67.59 419.17h0.7 M74.09 410.06h0.7 M77.67 412.29h0.7 M72.73 410.20h0.7 M65.74 417.32h0.7 M62.77 414.77h0.7 M71.79 412.14h0.7 M77.62 416.88h0.7 M68.75 418.12h0.7 M77.17 418.92h0.7 M68.82 417.37h0.7 M71.68 410.59h0.7 M67.53 421.72h0.7 M65.07 416.24h0.7 M78.99 413.17h0.7 M69.43 411.85h0.7 M72.37 410.15h0.7 M72.03 411.56h0.7 M71.38 408.40h0.7 M63.39 417.80h0.7 M72.78 403.66h0.7 M77.98 411.55h0.7 M74.43 418.14h0.7 M68.57 413.13h0.7 M58.72 416.14h0.7 M79.88 410.04h0.7 M75.78 417.13h0.7 M74.79 410.68h0.7 M68.84 415.39h0.7 M79.03 411.15h0.7 M66.51 411.75h0.7 M74.28 408.84h0.7 M68.32 409.82h0.7 M67.55 417.16h0.7 M66.44 416.93h0.7 M66.82 414.28h0.7 M68.59 411.31h0.7 M71.77 416.76h0.7 M65.01 416.88h0.7 M70.01 412.93h0.7 M70.28 417.37h0.7 M73.57 419.72h0.7 M70.88 415.22h0.7 M61.07 412.54h0.7 M72.70 410.51h0.7 M64.23 420.91h0.7 M68.95 410.52h0.7 M57.59 411.34h0.7 M82.23 414.37h0.7 M72.79 416.81h0.7 M66.70 415.67h0.7 M69.65 413.26h0.7 M75.05 411.48h0.7 M65.20 412.13h0.7 M76.16 412.71h0.7 M79.41 409.71h0.7 M63.90 405.14h0.7 M64.26 414.72h0.7 M73.25 410.94h0.7 M66.50 419.43h0.7 M66.66 414.78h0.7 M72.90 410.99h0.7 M76.19 413.73h0.7 M73.69 413.38h0.7 M70.86 418.69h0.7 M70.58 408.00h0.7 M67.80 413.06h0.7 M68.35 415.08h0.7 M60.35 420.59h0.7 M64.62 418.95h0.7 M67.29 413.16h0.7 M68.65 413.18h0.7 M72.39 418.73h0.7 M79.39 420.99h0.7 M62.58 416.73h0.7 M72.07 414.14h0.7 M71.06 414.49h0.7 M63.04 411.46h0.7 M74.66 414.21h0.7 M77.03 412.83h0.7 M66.18 414.81h0.7 M69.97 417.82h0.7 M66.48 417.28h0.7 M71.40 411.33h0.7 M68.43 413.79h0.7 M74.99 418.76h0.7 M73.18 412.57h0.7 M73.42 415.02h0.7 M66.14 417.07h0.7 M65.18 413.38h0.7 M63.68 409.60h0.7" stroke="#5a66c4" stroke-width="0.7" opacity="0.42"/>
<path d="M49.24 416.06h0.7 M58.17 419.34h0.7 M57.72 415.62h0.7 M54.32 414.89h0.7 M47.78 414.34h0.7 M56.78 416.12h0.7 M51.74 412.87h0.7 M52.64 414.06h0.7 M53.15 416.71h0.7 M43.93 415.28h0.7 M47.18 413.18h0.7 M48.07 418.26h0.7 M55.66 416.74h0.7 M50.05 411.93h0.7 M51.49 416.01h0.7 M52.71 417.21h0.7 M51.58 419.97h0.7 M55.60 420.45h0.7 M53.98 414.92h0.7 M49.63 417.51h0.7 M57.16 415.89h0.7 M54.62 414.82h0.7 M51.33 414.77h0.7 M45.52 412.98h0.7 M53.15 415.81h0.7 M57.31 417.06h0.7 M54.67 415.62h0.7 M43.99 415.62h0.7 M49.47 416.71h0.7 M51.86 414.65h0.7 M50.84 414.76h0.7 M45.19 411.52h0.7 M57.80 416.56h0.7 M51.21 414.62h0.7 M51.51 423.57h0.7 M55.03 415.48h0.7 M50.29 409.60h0.7 M53.46 418.92h0.7 M56.68 416.14h0.7 M50.55 412.53h0.7 M53.26 414.45h0.7 M48.42 419.59h0.7 M49.22 414.12h0.7 M43.45 419.72h0.7 M52.31 415.28h0.7 M54.09 413.37h0.7 M50.47 416.20h0.7 M49.67 416.26h0.7 M57.78 417.37h0.7 M58.59 418.14h0.7 M59.88 416.19h0.7 M54.66 412.76h0.7 M52.24 413.67h0.7 M52.67 412.88h0.7 M54.23 421.90h0.7 M49.86 416.91h0.7 M55.45 413.65h0.7 M51.79 414.17h0.7 M54.71 413.89h0.7 M63.34 417.62h0.7" stroke="#5a66c4" stroke-width="0.7" opacity="0.4"/>
<path d="M66.19 408.25h0.7 M67.60 409.08h0.7 M72.89 400.70h0.7 M68.65 408.09h0.7 M66.47 410.31h0.7 M70.00 425.83h0.7 M71.21 410.96h0.7 M73.47 404.72h0.7 M67.60 414.32h0.7 M67.99 405.09h0.7 M67.69 402.87h0.7 M74.59 418.60h0.7 M80.50 409.25h0.7 M69.09 409.82h0.7 M72.14 411.08h0.7 M73.17 409.15h0.7 M64.30 420.56h0.7 M68.01 417.96h0.7 M68.65 411.86h0.7 M63.35 405.14h0.7 M71.58 414.56h0.7 M69.06 411.86h0.7 M62.62 411.24h0.7 M67.30 404.80h0.7 M71.40 408.30h0.7" stroke="#d09060" stroke-width="0.7" opacity="0.4"/>
<rect x="59.50" y="380.50" width="27.00" height="47.00" fill="none" stroke="#231f20" stroke-width="1"/>
<line x1="59.25" y1="408.50" x2="86.75" y2="408.50" stroke="#231f20" stroke-width="1"/>
<rect x="37.50" y="408.50" width="22.00" height="19.00" fill="none" stroke="#bf3a5e" stroke-width="1"/>
<text x="34.40" y="371.40" font-size="8.2" textLength="21.80" lengthAdjust="spacingAndGlyphs" font-style="italic" stroke="#231f20" stroke-width="0.25">Runx1</text>
<text x="56.20" y="368.50" font-size="5.8" textLength="38.20" lengthAdjust="spacingAndGlyphs" font-style="italic" stroke="#231f20" stroke-width="0.12">KTAMK/KTAMK</text>
<text x="89.00" y="386.10" font-size="8.2" textLength="25.20" lengthAdjust="spacingAndGlyphs" stroke="#231f20" stroke-width="0.25">0.064%</text>
<text x="33.00" y="406.10" font-size="8.2" fill="#bf3a5e" textLength="27.00" lengthAdjust="spacingAndGlyphs" stroke="#bf3a5e" stroke-width="0.25">0.015%</text>
<text x="89.00" y="428.05" font-size="8.2" textLength="25.20" lengthAdjust="spacingAndGlyphs" stroke="#231f20" stroke-width="0.25">0.086%</text>
<line x1="24.50" y1="210.00" x2="24.50" y2="433.75" stroke="#231f20" stroke-width="1"/>
<path d="M22 211.5 L24.25 206.5 L26.5 211.5 Z" fill="#231f20"/>
<line x1="33.75" y1="443.50" x2="103.00" y2="443.50" stroke="#231f20" stroke-width="1"/>
<path d="M101.5 441.5 L106.5 443.75 L101.5 446 Z" fill="#231f20"/>
<text x="16.50" y="322.50" font-size="8.5" text-anchor="middle" transform="rotate(-90 16.50 322.50)" stroke="#231f20" stroke-width="0.25">Flt3</text>
<text x="59.25" y="455.20" font-size="8.5" textLength="18.75" lengthAdjust="spacingAndGlyphs" stroke="#231f20" stroke-width="0.25">CD34</text>
<line x1="161.50" y1="208.75" x2="161.50" y2="305.50" stroke="#231f20" stroke-width="1"/>
<line x1="158.25" y1="230.50" x2="161.75" y2="230.50" stroke="#231f20" stroke-width="1"/>
<line x1="158.25" y1="248.50" x2="161.75" y2="248.50" stroke="#231f20" stroke-width="1"/>
<line x1="158.25" y1="267.50" x2="161.75" y2="267.50" stroke="#231f20" stroke-width="1"/>
<line x1="158.25" y1="286.50" x2="161.75" y2="286.50" stroke="#231f20" stroke-width="1"/>
<line x1="158.25" y1="305.50" x2="161.75" y2="305.50" stroke="#231f20" stroke-width="1"/>
<text x="156.30" y="233.00" font-size="8.2" text-anchor="end" textLength="16.75" lengthAdjust="spacingAndGlyphs" stroke="#231f20" stroke-width="0.25">0.02</text>
<text x="156.30" y="270.50" font-size="8.2" text-anchor="end" textLength="16.75" lengthAdjust="spacingAndGlyphs" stroke="#231f20" stroke-width="0.25">0.01</text>
<text x="155.60" y="308.00" font-size="8.2" text-anchor="end" stroke="#231f20" stroke-width="0.25">0</text>
<line x1="160.00" y1="305.50" x2="218.00" y2="305.50" stroke="#231f20" stroke-width="1"/>
<rect x="176.75" y="275.00" width="7.50" height="30.00" fill="#2c4e82"/>
<rect x="186.25" y="263.75" width="7.50" height="41.25" fill="#65a941"/>
<rect x="195.75" y="251.75" width="8.00" height="53.25" fill="#a8002c"/>
<line x1="180.50" y1="275.00" x2="180.50" y2="263.20" stroke="#231f20" stroke-width="1"/>
<line x1="179.30" y1="263.50" x2="181.70" y2="263.50" stroke="#231f20" stroke-width="1"/>
<path d="M180.50 254.30h0.01 M179.70 264.00h0.01 M181.00 267.50h0.01 M181.70 271.00h0.01 M179.50 276.00h0.01 M180.90 280.00h0.01 M179.90 284.00h0.01 M181.50 288.00h0.01 M180.50 290.00h0.01" stroke="#231f20" stroke-width="1.9" stroke-linecap="round"/>
<line x1="190.50" y1="263.75" x2="190.50" y2="244.00" stroke="#231f20" stroke-width="1"/>
<line x1="188.80" y1="244.50" x2="191.20" y2="244.50" stroke="#231f20" stroke-width="1"/>
<path d="M190.00 223.50h0.01 M190.30 264.50h0.01 M189.50 266.00h0.01 M190.80 270.00h0.01 M189.70 284.00h0.01" stroke="#231f20" stroke-width="1.9" stroke-linecap="round"/>
<line x1="199.50" y1="251.75" x2="199.50" y2="235.50" stroke="#231f20" stroke-width="1"/>
<line x1="198.55" y1="235.50" x2="200.95" y2="235.50" stroke="#231f20" stroke-width="1"/>
<path d="M199.75 218.50h0.01 M199.75 231.50h0.01 M199.45 248.00h0.01 M200.35 252.00h0.01 M198.75 256.00h0.01 M200.75 262.00h0.01 M199.25 268.00h0.01 M200.25 273.00h0.01" stroke="#231f20" stroke-width="1.9" stroke-linecap="round"/>
<text x="175.00" y="207.30" font-size="8.2" textLength="28.75" lengthAdjust="spacingAndGlyphs" stroke="#231f20" stroke-width="0.25">p &lt; 0.01</text>
<path d="M180.00 214.05V211.25H199.50V214.05" stroke="#231f20" stroke-width="0.8" fill="none"/>
<rect x="213.25" y="212.50" width="25.50" height="6.30" fill="#2c4e82"/>
<text x="241.70" y="218.10" font-size="8.3" textLength="22.70" lengthAdjust="spacingAndGlyphs" font-style="italic" stroke="#231f20" stroke-width="0.25">Runx1</text>
<text x="264.40" y="215.00" font-size="6.0" textLength="9.10" lengthAdjust="spacingAndGlyphs" font-style="italic" stroke="#231f20" stroke-width="0.12">+/+</text>
<rect x="213.25" y="224.50" width="25.50" height="6.30" fill="#65a941"/>
<text x="241.70" y="229.80" font-size="8.3" textLength="22.70" lengthAdjust="spacingAndGlyphs" font-style="italic" stroke="#231f20" stroke-width="0.25">Runx1</text>
<text x="264.40" y="226.70" font-size="6.0" textLength="24.40" lengthAdjust="spacingAndGlyphs" font-style="italic" stroke="#231f20" stroke-width="0.12">+/KTAMK</text>
<rect x="213.25" y="236.25" width="25.50" height="6.30" fill="#a8002c"/>
<text x="241.70" y="241.40" font-size="8.3" textLength="22.70" lengthAdjust="spacingAndGlyphs" font-style="italic" stroke="#231f20" stroke-width="0.25">Runx1</text>
<text x="264.40" y="238.30" font-size="6.0" textLength="38.40" lengthAdjust="spacingAndGlyphs" font-style="italic" stroke="#231f20" stroke-width="0.12">KTAMK/KTAMK</text>
<text x="144.25" y="318.40" font-size="8.2" textLength="90.00" lengthAdjust="spacingAndGlyphs" stroke="#231f20" stroke-width="0.25"><tspan dy="-0.00">CD34</tspan><tspan dy="-3.28" font-size="4.51">-</tspan><tspan dy="3.28">Flt3</tspan><tspan dy="-3.28" font-size="4.51">-</tspan><tspan dy="3.28">Lin</tspan><tspan dy="-3.28" font-size="4.51">-</tspan><tspan dy="3.28">Sca1</tspan><tspan dy="-1.64" font-size="6.89">+</tspan><tspan dy="1.64">cKit</tspan><tspan dy="-1.64" font-size="6.89">+</tspan></text>
<text x="134.40" y="256.00" font-size="8.5" text-anchor="middle" textLength="48.00" lengthAdjust="spacingAndGlyphs" transform="rotate(-90 134.40 256.00)" stroke="#231f20" stroke-width="0.25">Frequency (%)</text>
<line x1="156.50" y1="338.00" x2="156.50" y2="434.75" stroke="#231f20" stroke-width="1"/>
<line x1="153.25" y1="340.50" x2="156.75" y2="340.50" stroke="#231f20" stroke-width="1"/>
<line x1="153.25" y1="355.50" x2="156.75" y2="355.50" stroke="#231f20" stroke-width="1"/>
<line x1="153.25" y1="371.50" x2="156.75" y2="371.50" stroke="#231f20" stroke-width="1"/>
<line x1="153.25" y1="387.50" x2="156.75" y2="387.50" stroke="#231f20" stroke-width="1"/>
<line x1="153.25" y1="403.50" x2="156.75" y2="403.50" stroke="#231f20" stroke-width="1"/>
<line x1="153.25" y1="418.50" x2="156.75" y2="418.50" stroke="#231f20" stroke-width="1"/>
<line x1="153.25" y1="434.50" x2="156.75" y2="434.50" stroke="#231f20" stroke-width="1"/>
<text x="151.00" y="358.50" font-size="8.2" text-anchor="end" textLength="11.00" lengthAdjust="spacingAndGlyphs" stroke="#231f20" stroke-width="0.25">0.1</text>
<text x="151.00" y="437.30" font-size="8.2" text-anchor="end" stroke="#231f20" stroke-width="0.25">0</text>
<line x1="155.50" y1="434.50" x2="274.50" y2="434.50" stroke="#231f20" stroke-width="1"/>
<rect x="174.25" y="387.00" width="8.75" height="47.25" fill="#2c4e82"/>
<rect x="185.00" y="373.75" width="8.75" height="60.50" fill="#65a941"/>
<rect x="195.50" y="365.75" width="9.00" height="68.50" fill="#a8002c"/>
<rect x="227.50" y="383.25" width="9.00" height="51.00" fill="#2c4e82"/>
<rect x="238.00" y="368.75" width="9.00" height="65.50" fill="#65a941"/>
<rect x="249.00" y="381.25" width="9.25" height="53.00" fill="#a8002c"/>
<line x1="178.50" y1="387.00" x2="178.50" y2="368.00" stroke="#231f20" stroke-width="1"/>
<line x1="177.40" y1="368.50" x2="179.80" y2="368.50" stroke="#231f20" stroke-width="1"/>
<path d="M178.60 366.00h0.01 M177.80 373.00h0.01 M179.20 378.00h0.01 M177.60 384.00h0.01 M179.00 391.00h0.01 M179.60 397.00h0.01 M178.10 402.00h0.01 M179.10 407.00h0.01 M177.60 413.00h0.01 M179.20 418.00h0.01 M178.30 422.00h0.01" stroke="#231f20" stroke-width="1.9" stroke-linecap="round"/>
<line x1="189.50" y1="373.75" x2="189.50" y2="350.75" stroke="#231f20" stroke-width="1"/>
<line x1="188.20" y1="350.50" x2="190.60" y2="350.50" stroke="#231f20" stroke-width="1"/>
<path d="M189.40 352.00h0.01 M189.40 363.00h0.01 M188.80 381.00h0.01 M190.00 387.00h0.01 M188.60 394.00h0.01" stroke="#231f20" stroke-width="1.9" stroke-linecap="round"/>
<line x1="200.50" y1="365.75" x2="200.50" y2="348.75" stroke="#231f20" stroke-width="1"/>
<line x1="198.80" y1="348.50" x2="201.20" y2="348.50" stroke="#231f20" stroke-width="1"/>
<path d="M200.00 348.00h0.01 M200.00 354.00h0.01 M199.20 358.00h0.01 M200.60 361.00h0.01 M199.40 363.00h0.01 M200.80 368.00h0.01 M199.00 376.00h0.01 M200.30 380.00h0.01 M199.60 390.00h0.01" stroke="#231f20" stroke-width="1.9" stroke-linecap="round"/>
<line x1="232.50" y1="383.25" x2="232.50" y2="361.25" stroke="#231f20" stroke-width="1"/>
<line x1="230.80" y1="361.50" x2="233.20" y2="361.50" stroke="#231f20" stroke-width="1"/>
<path d="M232.00 358.00h0.01 M231.20 367.00h0.01 M232.60 372.00h0.01 M231.00 376.00h0.01 M232.40 381.00h0.01 M233.00 386.00h0.01 M231.50 390.00h0.01 M232.50 394.00h0.01 M231.00 400.00h0.01 M232.60 406.00h0.01" stroke="#231f20" stroke-width="1.9" stroke-linecap="round"/>
<line x1="242.50" y1="368.75" x2="242.50" y2="349.75" stroke="#231f20" stroke-width="1"/>
<line x1="241.30" y1="349.50" x2="243.70" y2="349.50" stroke="#231f20" stroke-width="1"/>
<path d="M242.50 345.00h0.01 M242.80 352.00h0.01 M241.70 367.00h0.01 M243.10 377.00h0.01 M242.10 385.00h0.01 M242.90 392.00h0.01" stroke="#231f20" stroke-width="1.9" stroke-linecap="round"/>
<line x1="253.50" y1="381.25" x2="253.50" y2="360.25" stroke="#231f20" stroke-width="1"/>
<line x1="252.40" y1="360.50" x2="254.80" y2="360.50" stroke="#231f20" stroke-width="1"/>
<path d="M253.60 343.50h0.01 M253.60 356.00h0.01 M253.00 366.00h0.01 M254.20 373.00h0.01 M252.80 393.00h0.01 M254.10 401.00h0.01 M253.10 405.00h0.01" stroke="#231f20" stroke-width="1.9" stroke-linecap="round"/>
<text x="174.25" y="338.00" font-size="8.2" textLength="29.50" lengthAdjust="spacingAndGlyphs" stroke="#231f20" stroke-width="0.25">p &lt; 0.01</text>
<path d="M178.75 344.55V341.75H200.50V344.55" stroke="#231f20" stroke-width="0.8" fill="none"/>
<text x="168.75" y="447.50" font-size="8.2" textLength="41.25" lengthAdjust="spacingAndGlyphs" stroke="#231f20" stroke-width="0.25"><tspan dy="-0.00">CD34</tspan><tspan dy="-1.64" font-size="6.89">+</tspan><tspan dy="1.64">Flt3</tspan><tspan dy="-3.28" font-size="4.51">-</tspan></text>
<text x="221.25" y="447.50" font-size="8.2" textLength="42.50" lengthAdjust="spacingAndGlyphs" stroke="#231f20" stroke-width="0.25"><tspan dy="-0.00">CD34</tspan><tspan dy="-1.64" font-size="6.89">+</tspan><tspan dy="1.64">Flt3</tspan><tspan dy="-1.64" font-size="6.89">+</tspan></text>
<text x="190.75" y="464.40" font-size="8.2" textLength="49.75" lengthAdjust="spacingAndGlyphs" stroke="#231f20" stroke-width="0.25"><tspan dy="-0.00">Lin</tspan><tspan dy="-3.28" font-size="4.51">-</tspan><tspan dy="3.28">Sca1</tspan><tspan dy="-1.64" font-size="6.89">+</tspan><tspan dy="1.64">cKit</tspan><tspan dy="-1.64" font-size="6.89">+</tspan></text>
<text x="134.40" y="386.00" font-size="8.5" text-anchor="middle" textLength="48.00" lengthAdjust="spacingAndGlyphs" transform="rotate(-90 134.40 386.00)" stroke="#231f20" stroke-width="0.25">Frequency (%)</text>
<text x="7.00" y="487.20" font-size="11.2" fill="#000" font-weight="bold" stroke="#000" stroke-width="0.4">C</text>
<line x1="38.50" y1="510.50" x2="38.50" y2="640.00" stroke="#231f20" stroke-width="1"/>
<line x1="35.25" y1="639.50" x2="38.75" y2="639.50" stroke="#231f20" stroke-width="1"/>
<line x1="35.25" y1="618.50" x2="38.75" y2="618.50" stroke="#231f20" stroke-width="1"/>
<line x1="35.25" y1="597.50" x2="38.75" y2="597.50" stroke="#231f20" stroke-width="1"/>
<line x1="35.25" y1="576.50" x2="38.75" y2="576.50" stroke="#231f20" stroke-width="1"/>
<line x1="35.25" y1="554.50" x2="38.75" y2="554.50" stroke="#231f20" stroke-width="1"/>
<line x1="35.25" y1="533.50" x2="38.75" y2="533.50" stroke="#231f20" stroke-width="1"/>
<line x1="35.25" y1="512.50" x2="38.75" y2="512.50" stroke="#231f20" stroke-width="1"/>
<text x="32.20" y="537.20" font-size="8.2" text-anchor="end" textLength="11.00" lengthAdjust="spacingAndGlyphs" stroke="#231f20" stroke-width="0.25">0.1</text>
<text x="32.20" y="642.70" font-size="8.2" text-anchor="end" stroke="#231f20" stroke-width="0.25">0</text>
<line x1="36.25" y1="639.50" x2="221.75" y2="639.50" stroke="#231f20" stroke-width="1"/>
<rect x="50.00" y="635.50" width="8.75" height="4.00" fill="#2c4e82"/>
<rect x="60.75" y="632.50" width="8.75" height="7.00" fill="#a8002c"/>
<line x1="54.50" y1="635.50" x2="54.50" y2="633.50" stroke="#231f20" stroke-width="1"/>
<line x1="53.17" y1="633.50" x2="55.58" y2="633.50" stroke="#231f20" stroke-width="1"/>
<path d="M54.38 634.00h0.01 M53.38 637.50h0.01 M55.38 639.50h0.01" stroke="#231f20" stroke-width="1.9" stroke-linecap="round"/>
<line x1="65.50" y1="632.50" x2="65.50" y2="629.00" stroke="#231f20" stroke-width="1"/>
<line x1="63.92" y1="629.50" x2="66.33" y2="629.50" stroke="#231f20" stroke-width="1"/>
<path d="M65.12 629.00h0.01 M65.62 634.50h0.01 M64.62 638.50h0.01" stroke="#231f20" stroke-width="1.9" stroke-linecap="round"/>
<text x="59.50" y="650.00" font-size="8.4" text-anchor="middle" textLength="15.50" lengthAdjust="spacingAndGlyphs" stroke="#231f20" stroke-width="0.25">HSC</text>
<text x="59.50" y="661.00" font-size="8.4" text-anchor="middle" textLength="19.50" lengthAdjust="spacingAndGlyphs" stroke="#231f20" stroke-width="0.25"><tspan dy="-0.00">CD34</tspan><tspan dy="-3.36" font-size="4.62">-</tspan></text>
<text x="59.50" y="670.00" font-size="8.4" text-anchor="middle" textLength="20.00" lengthAdjust="spacingAndGlyphs" stroke="#231f20" stroke-width="0.25"><tspan dy="-0.00">CD48</tspan><tspan dy="-3.36" font-size="4.62">-</tspan></text>
<text x="59.50" y="679.00" font-size="8.4" text-anchor="middle" textLength="27.50" lengthAdjust="spacingAndGlyphs" stroke="#231f20" stroke-width="0.25"><tspan dy="-0.00">CD150</tspan><tspan dy="-2.90" font-size="5.40">+</tspan></text>
<text x="59.50" y="688.00" font-size="8.4" text-anchor="middle" textLength="14.50" lengthAdjust="spacingAndGlyphs" stroke="#231f20" stroke-width="0.25"><tspan dy="-0.00">Flt3</tspan><tspan dy="-3.36" font-size="4.62">-</tspan></text>
<rect x="85.50" y="630.00" width="8.75" height="9.50" fill="#2c4e82"/>
<rect x="96.00" y="629.50" width="8.50" height="10.00" fill="#a8002c"/>
<line x1="89.50" y1="630.00" x2="89.50" y2="625.00" stroke="#231f20" stroke-width="1"/>
<line x1="88.67" y1="625.50" x2="91.08" y2="625.50" stroke="#231f20" stroke-width="1"/>
<path d="M89.88 625.50h0.01 M88.88 632.00h0.01 M90.88 634.00h0.01" stroke="#231f20" stroke-width="1.9" stroke-linecap="round"/>
<line x1="100.50" y1="629.50" x2="100.50" y2="623.00" stroke="#231f20" stroke-width="1"/>
<line x1="99.05" y1="623.50" x2="101.45" y2="623.50" stroke="#231f20" stroke-width="1"/>
<path d="M100.25 623.00h0.01 M100.75 631.50h0.01 M99.75 635.50h0.01" stroke="#231f20" stroke-width="1.9" stroke-linecap="round"/>
<text x="95.00" y="650.00" font-size="8.4" text-anchor="middle" textLength="20.75" lengthAdjust="spacingAndGlyphs" stroke="#231f20" stroke-width="0.25">MPP1</text>
<text x="95.00" y="661.00" font-size="8.4" text-anchor="middle" textLength="19.50" lengthAdjust="spacingAndGlyphs" stroke="#231f20" stroke-width="0.25"><tspan dy="-0.00">CD34</tspan><tspan dy="-2.90" font-size="5.40">+</tspan></text>
<text x="95.00" y="670.00" font-size="8.4" text-anchor="middle" textLength="20.00" lengthAdjust="spacingAndGlyphs" stroke="#231f20" stroke-width="0.25"><tspan dy="-0.00">CD48</tspan><tspan dy="-3.36" font-size="4.62">-</tspan></text>
<text x="95.00" y="679.00" font-size="8.4" text-anchor="middle" textLength="27.50" lengthAdjust="spacingAndGlyphs" stroke="#231f20" stroke-width="0.25"><tspan dy="-0.00">CD150</tspan><tspan dy="-2.90" font-size="5.40">+</tspan></text>
<text x="95.00" y="688.00" font-size="8.4" text-anchor="middle" textLength="14.50" lengthAdjust="spacingAndGlyphs" stroke="#231f20" stroke-width="0.25"><tspan dy="-0.00">Flt3</tspan><tspan dy="-3.36" font-size="4.62">-</tspan></text>
<rect x="120.50" y="630.50" width="8.75" height="9.00" fill="#2c4e82"/>
<rect x="130.75" y="613.75" width="9.25" height="25.75" fill="#a8002c"/>
<line x1="124.50" y1="630.50" x2="124.50" y2="626.00" stroke="#231f20" stroke-width="1"/>
<line x1="123.67" y1="626.50" x2="126.08" y2="626.50" stroke="#231f20" stroke-width="1"/>
<path d="M124.88 626.50h0.01 M123.88 632.50h0.01 M125.88 634.50h0.01" stroke="#231f20" stroke-width="1.9" stroke-linecap="round"/>
<line x1="135.50" y1="613.75" x2="135.50" y2="604.25" stroke="#231f20" stroke-width="1"/>
<line x1="134.18" y1="604.50" x2="136.57" y2="604.50" stroke="#231f20" stroke-width="1"/>
<path d="M135.38 604.25h0.01 M135.88 615.75h0.01 M134.88 619.75h0.01" stroke="#231f20" stroke-width="1.9" stroke-linecap="round"/>
<text x="130.50" y="650.00" font-size="8.4" text-anchor="middle" textLength="20.75" lengthAdjust="spacingAndGlyphs" stroke="#231f20" stroke-width="0.25">MPP2</text>
<text x="130.50" y="661.00" font-size="8.4" text-anchor="middle" textLength="19.50" lengthAdjust="spacingAndGlyphs" stroke="#231f20" stroke-width="0.25"><tspan dy="-0.00">CD34</tspan><tspan dy="-2.90" font-size="5.40">+</tspan></text>
<text x="130.50" y="670.00" font-size="8.4" text-anchor="middle" textLength="20.00" lengthAdjust="spacingAndGlyphs" stroke="#231f20" stroke-width="0.25"><tspan dy="-0.00">CD48</tspan><tspan dy="-2.90" font-size="5.40">+</tspan></text>
<text x="130.50" y="679.00" font-size="8.4" text-anchor="middle" textLength="27.50" lengthAdjust="spacingAndGlyphs" stroke="#231f20" stroke-width="0.25"><tspan dy="-0.00">CD150</tspan><tspan dy="-2.90" font-size="5.40">+</tspan></text>
<text x="130.50" y="688.00" font-size="8.4" text-anchor="middle" textLength="14.50" lengthAdjust="spacingAndGlyphs" stroke="#231f20" stroke-width="0.25"><tspan dy="-0.00">Flt3</tspan><tspan dy="-3.36" font-size="4.62">-</tspan></text>
<rect x="155.50" y="592.75" width="9.00" height="46.75" fill="#2c4e82"/>
<rect x="166.25" y="554.50" width="8.75" height="85.00" fill="#a8002c"/>
<line x1="160.50" y1="592.75" x2="160.50" y2="574.25" stroke="#231f20" stroke-width="1"/>
<line x1="158.80" y1="574.50" x2="161.20" y2="574.50" stroke="#231f20" stroke-width="1"/>
<path d="M160.00 574.75h0.01 M159.00 594.75h0.01 M161.00 596.75h0.01" stroke="#231f20" stroke-width="1.9" stroke-linecap="round"/>
<line x1="170.50" y1="554.50" x2="170.50" y2="530.50" stroke="#231f20" stroke-width="1"/>
<line x1="169.43" y1="530.50" x2="171.82" y2="530.50" stroke="#231f20" stroke-width="1"/>
<path d="M170.62 530.50h0.01 M171.12 556.50h0.01 M170.12 560.50h0.01" stroke="#231f20" stroke-width="1.9" stroke-linecap="round"/>
<text x="165.50" y="650.00" font-size="8.4" text-anchor="middle" textLength="20.75" lengthAdjust="spacingAndGlyphs" stroke="#231f20" stroke-width="0.25">MPP3</text>
<text x="165.50" y="661.00" font-size="8.4" text-anchor="middle" textLength="19.50" lengthAdjust="spacingAndGlyphs" stroke="#231f20" stroke-width="0.25"><tspan dy="-0.00">CD34</tspan><tspan dy="-2.90" font-size="5.40">+</tspan></text>
<text x="165.50" y="670.00" font-size="8.4" text-anchor="middle" textLength="20.00" lengthAdjust="spacingAndGlyphs" stroke="#231f20" stroke-width="0.25"><tspan dy="-0.00">CD48</tspan><tspan dy="-2.90" font-size="5.40">+</tspan></text>
<text x="165.50" y="679.00" font-size="8.4" text-anchor="middle" textLength="27.50" lengthAdjust="spacingAndGlyphs" stroke="#231f20" stroke-width="0.25"><tspan dy="-0.00">CD150</tspan><tspan dy="-3.36" font-size="4.62">-</tspan></text>
<text x="165.50" y="688.00" font-size="8.4" text-anchor="middle" textLength="14.50" lengthAdjust="spacingAndGlyphs" stroke="#231f20" stroke-width="0.25"><tspan dy="-0.00">Flt3</tspan><tspan dy="-3.36" font-size="4.62">-</tspan></text>
<rect x="190.75" y="600.50" width="8.75" height="39.00" fill="#2c4e82"/>
<rect x="201.50" y="590.75" width="9.00" height="48.75" fill="#a8002c"/>
<line x1="195.50" y1="600.50" x2="195.50" y2="593.50" stroke="#231f20" stroke-width="1"/>
<line x1="193.93" y1="593.50" x2="196.32" y2="593.50" stroke="#231f20" stroke-width="1"/>
<path d="M195.12 594.00h0.01 M194.12 602.50h0.01 M196.12 604.50h0.01" stroke="#231f20" stroke-width="1.9" stroke-linecap="round"/>
<line x1="206.50" y1="590.75" x2="206.50" y2="579.25" stroke="#231f20" stroke-width="1"/>
<line x1="204.80" y1="579.50" x2="207.20" y2="579.50" stroke="#231f20" stroke-width="1"/>
<path d="M206.00 579.25h0.01 M206.50 592.75h0.01 M205.50 596.75h0.01" stroke="#231f20" stroke-width="1.9" stroke-linecap="round"/>
<text x="200.75" y="650.00" font-size="8.4" text-anchor="middle" textLength="20.75" lengthAdjust="spacingAndGlyphs" stroke="#231f20" stroke-width="0.25">MPP4</text>
<text x="200.75" y="661.00" font-size="8.4" text-anchor="middle" textLength="19.50" lengthAdjust="spacingAndGlyphs" stroke="#231f20" stroke-width="0.25"><tspan dy="-0.00">CD34</tspan><tspan dy="-2.90" font-size="5.40">+</tspan></text>
<text x="200.75" y="670.00" font-size="8.4" text-anchor="middle" textLength="20.00" lengthAdjust="spacingAndGlyphs" stroke="#231f20" stroke-width="0.25"><tspan dy="-0.00">CD48</tspan><tspan dy="-2.90" font-size="5.40">+</tspan></text>
<text x="200.75" y="679.00" font-size="8.4" text-anchor="middle" textLength="27.50" lengthAdjust="spacingAndGlyphs" stroke="#231f20" stroke-width="0.25"><tspan dy="-0.00">CD150</tspan><tspan dy="-3.36" font-size="4.62">-</tspan></text>
<text x="200.75" y="688.00" font-size="8.4" text-anchor="middle" textLength="14.50" lengthAdjust="spacingAndGlyphs" stroke="#231f20" stroke-width="0.25"><tspan dy="-0.00">Flt3</tspan><tspan dy="-2.90" font-size="5.40">+</tspan></text>
<rect x="45.00" y="514.00" width="25.00" height="6.20" fill="#2c4e82"/>
<rect x="45.00" y="525.80" width="25.00" height="6.20" fill="#a8002c"/>
<text x="73.30" y="519.60" font-size="8.0" textLength="21.00" lengthAdjust="spacingAndGlyphs" font-style="italic" stroke="#231f20" stroke-width="0.25">Runx1</text>
<text x="94.30" y="516.80" font-size="5.8" textLength="8.40" lengthAdjust="spacingAndGlyphs" font-style="italic" stroke="#231f20" stroke-width="0.12">+/+</text>
<text x="73.30" y="531.10" font-size="8.0" textLength="21.00" lengthAdjust="spacingAndGlyphs" font-style="italic" stroke="#231f20" stroke-width="0.25">Runx1</text>
<text x="94.30" y="528.30" font-size="5.8" textLength="38.10" lengthAdjust="spacingAndGlyphs" font-style="italic" stroke="#231f20" stroke-width="0.12">KTAMK/KTAMK</text>
<text x="14.80" y="575.00" font-size="8.5" text-anchor="middle" textLength="48.00" lengthAdjust="spacingAndGlyphs" transform="rotate(-90 14.80 575.00)" stroke="#231f20" stroke-width="0.25">Frequency (%)</text>
<text x="44.50" y="595.50" font-size="8.2" textLength="30.00" lengthAdjust="spacingAndGlyphs" stroke="#231f20" stroke-width="0.25">p &lt; 0.05</text>
<path d="M54.50 602.00V599.50H65.50V602.00" stroke="#231f20" stroke-width="0.8" fill="none"/>
<text x="115.00" y="584.30" font-size="8.2" textLength="29.50" lengthAdjust="spacingAndGlyphs" stroke="#231f20" stroke-width="0.25">p &lt; 0.05</text>
<path d="M124.25 591.25V588.75H135.50V591.25" stroke="#231f20" stroke-width="0.8" fill="none"/>
<text x="150.50" y="515.50" font-size="8.2" textLength="29.50" lengthAdjust="spacingAndGlyphs" stroke="#231f20" stroke-width="0.25">p &lt; 0.05</text>
<path d="M159.50 522.70V520.20H170.50V522.70" stroke="#231f20" stroke-width="0.8" fill="none"/>
<text x="105.00" y="705.30" font-size="8.2" textLength="49.50" lengthAdjust="spacingAndGlyphs" stroke="#231f20" stroke-width="0.25"><tspan dy="-0.00">Lin</tspan><tspan dy="-3.28" font-size="4.51">-</tspan><tspan dy="3.28">Sca1</tspan><tspan dy="-1.64" font-size="6.89">+</tspan><tspan dy="1.64">cKit</tspan><tspan dy="-1.64" font-size="6.89">+</tspan></text>
<text x="320.80" y="16.90" font-size="12" fill="#000" font-weight="bold" stroke="#000" stroke-width="0.4">D</text>
<text x="357.70" y="31.70" font-size="10.6" textLength="110.00" lengthAdjust="spacingAndGlyphs" stroke="#231f20" stroke-width="0.25"><tspan dy="-0.00">CD34</tspan><tspan dy="-4.24" font-size="5.83">-</tspan><tspan dy="4.24">Flt3</tspan><tspan dy="-4.24" font-size="5.83">-</tspan><tspan dy="4.24">Lin</tspan><tspan dy="-4.24" font-size="5.83">-</tspan><tspan dy="4.24">Sca1</tspan><tspan dy="-2.12" font-size="8.90">+</tspan><tspan dy="2.12">cKit</tspan><tspan dy="-2.12" font-size="8.90">+</tspan></text>
<text x="357.70" y="46.50" font-size="8.4" textLength="22.80" lengthAdjust="spacingAndGlyphs" font-style="italic" stroke="#231f20" stroke-width="0.25">Runx1</text>
<text x="380.50" y="43.30" font-size="6.2" textLength="10.50" lengthAdjust="spacingAndGlyphs" font-style="italic" stroke="#231f20" stroke-width="0.12">+/+</text>
<text x="416.50" y="46.50" font-size="8.4" textLength="23.20" lengthAdjust="spacingAndGlyphs" font-style="italic" stroke="#231f20" stroke-width="0.25">Runx1</text>
<text x="439.70" y="43.30" font-size="6.4" textLength="47.40" lengthAdjust="spacingAndGlyphs" font-style="italic" stroke="#231f20" stroke-width="0.12">KTAMK/KTAMK</text>
<rect x="340.50" y="52.50" width="72.00" height="70.00" fill="none" stroke="#231f20" stroke-width="1"/>
<path d="M340.50 111.00h-1.5 M340.50 116.00h-1.5 M340.50 101.48h-1.3 M340.50 98.84h-1.3 M340.50 96.97h-1.3 M340.50 95.52h-1.3 M340.50 94.33h-1.3 M340.50 93.32h-1.3 M340.50 92.45h-1.3 M340.50 91.69h-1.3 M340.50 91.00h-2.5 M340.50 86.48h-1.3 M340.50 83.84h-1.3 M340.50 81.97h-1.3 M340.50 80.52h-1.3 M340.50 79.33h-1.3 M340.50 78.32h-1.3 M340.50 77.45h-1.3 M340.50 76.69h-1.3 M340.50 76.00h-2.5 M340.50 71.48h-1.3 M340.50 68.84h-1.3 M340.50 66.97h-1.3 M340.50 65.52h-1.3 M340.50 64.33h-1.3 M340.50 63.32h-1.3 M340.50 62.45h-1.3 M340.50 61.69h-1.3 M340.50 61.00h-2.5 M343.10 122.50v1.3 M345.75 122.50v1.3 M348.40 122.50v1.3 M351.05 122.50v1.3 M353.70 122.50v2.4 M356.35 122.50v1.3 M359.00 122.50v1.3 M361.65 122.50v1.3 M364.30 122.50v1.3 M366.95 122.50v2.4 M369.60 122.50v1.3 M372.25 122.50v1.3 M374.90 122.50v1.3 M377.55 122.50v1.3 M380.20 122.50v2.4 M382.85 122.50v1.3 M385.50 122.50v1.3 M388.15 122.50v1.3 M390.80 122.50v1.3 M393.45 122.50v2.4 M396.10 122.50v1.3 M398.75 122.50v1.3 M401.40 122.50v1.3 M404.05 122.50v1.3 M406.70 122.50v2.4 M409.35 122.50v1.3" stroke="#231f20" stroke-width="0.7" fill="none"/>
<path d="M338.30 104.50h2.2v3h-2.2z" fill="#231f20"/>
<path d="M363.79 76.56h0.7 M364.46 77.60h0.7 M366.97 67.12h0.7 M364.96 76.36h0.7 M363.92 79.13h0.7 M365.60 98.53h0.7 M366.17 79.95h0.7 M367.25 72.15h0.7 M364.46 84.15h0.7 M364.65 72.62h0.7 M364.50 69.84h0.7 M367.78 89.51h0.7 M370.59 77.82h0.7 M365.17 78.53h0.7 M366.62 80.10h0.7 M367.10 77.69h0.7 M362.89 91.95h0.7 M364.66 88.70h0.7 M364.96 81.08h0.7 M362.44 72.68h0.7 M366.35 84.45h0.7 M365.15 81.07h0.7 M362.09 80.30h0.7 M364.32 72.25h0.7 M366.26 76.63h0.7 M363.92 77.02h0.7 M364.85 77.82h0.7 M365.74 76.66h0.7 M367.33 91.78h0.7 M367.52 77.42h0.7 M364.38 82.89h0.7 M365.19 90.27h0.7 M366.02 83.41h0.7 M364.50 81.24h0.7 M363.51 68.81h0.7 M365.97 71.55h0.7 M364.43 86.55h0.7 M368.60 80.37h0.7 M364.78 85.73h0.7 M367.42 83.94h0.7 M363.96 76.29h0.7 M367.54 71.80h0.7 M365.73 89.14h0.7 M367.55 75.16h0.7 M365.05 78.38h0.7 M363.49 80.56h0.7 M363.99 84.56h0.7 M363.57 75.25h0.7 M364.46 80.29h0.7 M360.94 87.11h0.7 M365.16 81.02h0.7 M367.95 80.17h0.7 M366.40 81.03h0.7 M367.22 85.21h0.7 M367.79 79.60h0.7 M363.63 82.06h0.7 M363.53 79.94h0.7 M365.00 64.16h0.7 M364.96 72.55h0.7 M363.14 66.73h0.7 M366.40 84.54h0.7 M363.48 72.22h0.7 M364.02 72.20h0.7 M366.64 72.48h0.7 M367.32 62.04h0.7 M362.15 85.86h0.7 M364.81 64.60h0.7 M369.62 84.75h0.7 M366.11 60.90h0.7 M367.15 79.28h0.7 M365.09 76.37h0.7 M362.07 70.52h0.7 M366.23 86.50h0.7 M366.70 82.37h0.7 M365.82 83.25h0.7 M369.57 79.97h0.7 M362.55 82.79h0.7 M364.82 71.42h0.7 M363.11 85.12h0.7 M364.20 77.98h0.7 M363.84 87.93h0.7 M364.69 76.31h0.7 M362.61 70.27h0.7 M367.51 72.12h0.7 M367.40 83.36h0.7 M366.14 81.34h0.7 M365.54 88.28h0.7 M365.76 69.46h0.7 M365.01 91.32h0.7 M363.34 79.64h0.7 M365.42 88.07h0.7 M363.94 90.14h0.7 M363.54 80.89h0.7 M363.45 81.23h0.7 M364.48 68.89h0.7 M366.21 72.74h0.7 M366.93 61.32h0.7 M368.63 79.42h0.7 M368.98 85.82h0.7 M365.78 78.84h0.7 M364.81 85.84h0.7 M365.44 69.72h0.7 M365.35 84.72h0.7 M366.02 82.93h0.7 M366.72 63.00h0.7 M366.19 92.18h0.7 M366.78 78.52h0.7 M363.76 76.48h0.7 M369.39 77.62h0.7 M366.87 80.51h0.7 M367.03 72.00h0.7 M362.17 78.05h0.7 M366.02 61.41h0.7 M365.32 82.08h0.7 M365.38 77.75h0.7 M362.15 74.08h0.7 M363.54 86.13h0.7 M366.13 83.87h0.7 M362.61 70.73h0.7 M366.08 80.00h0.7 M367.60 75.73h0.7 M364.48 86.13h0.7 M364.05 76.74h0.7 M367.92 91.90h0.7 M364.90 70.09h0.7 M364.65 58.41h0.7 M367.21 92.46h0.7 M366.36 73.82h0.7 M363.64 77.00h0.7 M366.29 87.50h0.7 M368.13 94.24h0.7 M366.63 89.82h0.7 M360.94 71.34h0.7 M366.09 73.18h0.7 M365.17 81.68h0.7 M367.15 82.07h0.7 M366.18 79.26h0.7 M366.80 89.56h0.7 M364.82 83.69h0.7 M366.13 79.28h0.7 M363.96 75.41h0.7 M364.89 84.08h0.7 M366.61 86.53h0.7 M365.63 71.57h0.7 M366.27 64.82h0.7 M367.42 93.67h0.7 M363.87 76.16h0.7 M361.62 78.68h0.7 M364.94 82.10h0.7 M366.52 79.06h0.7 M367.98 87.46h0.7 M365.01 85.76h0.7 M363.24 67.24h0.7 M363.26 93.49h0.7 M363.70 72.99h0.7 M365.31 79.76h0.7 M367.16 89.45h0.7 M365.30 76.83h0.7 M364.20 73.55h0.7 M363.90 76.48h0.7 M365.96 86.89h0.7 M366.80 79.06h0.7 M367.12 72.97h0.7 M368.69 86.21h0.7 M369.20 81.55h0.7 M363.35 94.27h0.7 M365.34 73.01h0.7 M361.66 64.38h0.7 M366.21 84.48h0.7 M364.74 93.48h0.7 M365.63 85.64h0.7 M363.71 73.44h0.7 M363.50 84.64h0.7 M365.80 80.15h0.7 M366.23 80.44h0.7 M366.29 59.31h0.7 M366.93 85.22h0.7 M367.62 80.73h0.7 M364.20 71.08h0.7 M367.56 74.49h0.7 M367.35 82.37h0.7 M363.94 81.72h0.7 M368.21 82.27h0.7 M362.62 80.83h0.7 M365.12 82.16h0.7 M365.49 84.65h0.7 M364.54 81.06h0.7 M367.64 84.34h0.7 M366.17 82.73h0.7 M367.76 88.05h0.7 M366.81 67.19h0.7 M363.20 75.12h0.7 M365.65 72.08h0.7 M362.60 79.27h0.7 M363.86 72.34h0.7 M364.17 72.61h0.7 M365.96 86.24h0.7 M364.89 72.71h0.7 M366.76 74.36h0.7 M365.14 76.75h0.7 M364.46 93.93h0.7 M366.80 89.39h0.7 M368.17 81.79h0.7 M361.72 84.83h0.7 M367.09 68.51h0.7 M364.11 89.47h0.7 M366.84 87.19h0.7 M363.96 85.41h0.7 M365.40 85.11h0.7 M362.85 78.64h0.7 M361.26 72.87h0.7 M364.59 78.52h0.7 M364.56 74.92h0.7 M366.53 78.51h0.7 M362.86 82.95h0.7 M367.87 78.26h0.7 M363.20 88.88h0.7 M366.57 63.84h0.7 M365.42 76.14h0.7 M369.98 79.07h0.7 M363.04 84.35h0.7 M367.74 65.56h0.7 M365.46 76.78h0.7 M367.25 82.96h0.7 M364.02 81.77h0.7 M365.59 67.26h0.7 M363.22 86.84h0.7 M367.25 97.25h0.7 M365.66 84.37h0.7 M362.80 90.09h0.7 M363.24 73.39h0.7 M366.38 73.26h0.7 M371.04 74.42h0.7 M362.52 77.27h0.7 M367.14 72.02h0.7 M367.50 88.01h0.7 M362.01 84.04h0.7 M365.67 81.12h0.7 M366.10 84.14h0.7 M364.63 83.40h0.7 M364.32 88.64h0.7 M366.83 87.14h0.7 M365.48 80.59h0.7 M364.57 72.14h0.7 M366.24 64.86h0.7 M368.47 83.53h0.7 M361.86 83.86h0.7 M368.32 89.51h0.7 M364.84 81.42h0.7 M361.82 83.62h0.7 M367.26 83.26h0.7 M365.80 80.43h0.7 M366.71 71.59h0.7 M361.92 73.09h0.7 M369.53 89.17h0.7 M365.67 65.37h0.7 M366.36 73.12h0.7 M372.11 83.77h0.7 M363.59 71.23h0.7 M365.06 74.05h0.7 M364.45 73.15h0.7 M365.92 88.73h0.7 M364.02 81.28h0.7 M365.59 63.58h0.7 M365.26 79.06h0.7 M363.02 77.08h0.7 M366.25 74.15h0.7 M365.78 87.22h0.7 M367.36 91.04h0.7 M368.02 81.64h0.7 M365.84 78.33h0.7 M368.62 100.01h0.7 M364.45 91.99h0.7 M367.70 81.49h0.7 M366.97 81.50h0.7 M368.45 81.23h0.7 M363.90 81.99h0.7 M363.08 85.43h0.7 M365.54 84.34h0.7 M368.27 82.84h0.7 M364.88 75.24h0.7 M360.61 78.11h0.7 M362.41 82.13h0.7 M364.18 87.67h0.7 M366.13 68.58h0.7 M364.30 76.40h0.7 M367.64 82.99h0.7 M365.29 73.02h0.7 M365.28 71.63h0.7 M367.87 84.20h0.7 M364.01 77.99h0.7 M367.34 100.73h0.7 M362.98 73.83h0.7 M368.58 83.20h0.7 M366.75 87.32h0.7 M364.12 84.61h0.7 M365.92 75.12h0.7 M369.08 75.06h0.7 M361.72 80.83h0.7 M361.55 74.84h0.7 M360.38 81.49h0.7 M365.49 69.02h0.7 M368.53 79.57h0.7 M365.69 90.82h0.7 M366.54 86.69h0.7 M365.24 75.33h0.7 M364.38 82.51h0.7 M364.42 82.80h0.7 M364.55 66.39h0.7 M362.62 81.39h0.7 M365.70 66.39h0.7 M366.49 69.61h0.7 M365.38 67.90h0.7 M362.25 78.08h0.7 M366.73 91.10h0.7 M364.07 72.85h0.7 M362.23 69.77h0.7 M366.31 68.86h0.7 M368.72 71.13h0.7 M363.83 93.16h0.7 M367.49 73.50h0.7 M366.65 77.89h0.7 M366.05 74.70h0.7 M363.77 85.27h0.7 M363.58 84.27h0.7 M366.15 81.44h0.7 M365.36 74.12h0.7 M365.09 91.47h0.7 M365.70 70.73h0.7 M366.33 73.65h0.7 M367.69 73.18h0.7 M367.59 68.71h0.7 M364.29 63.77h0.7 M365.66 71.80h0.7 M367.02 85.16h0.7 M365.29 78.94h0.7 M364.00 75.62h0.7 M364.90 80.42h0.7 M368.02 85.12h0.7 M365.47 84.31h0.7 M366.04 78.09h0.7 M364.57 66.64h0.7 M367.82 73.34h0.7 M367.52 82.66h0.7 M366.98 74.53h0.7 M362.55 77.28h0.7 M364.01 76.70h0.7 M363.82 75.41h0.7 M365.24 82.48h0.7 M365.20 104.40h0.7 M365.13 86.69h0.7 M366.48 79.59h0.7 M365.57 87.29h0.7 M363.71 81.71h0.7 M365.43 84.23h0.7 M364.51 78.44h0.7 M368.81 80.29h0.7 M365.75 72.93h0.7 M366.42 77.01h0.7 M367.94 73.39h0.7 M365.31 77.89h0.7 M365.69 75.45h0.7 M363.26 77.89h0.7 M367.08 82.33h0.7 M368.40 73.87h0.7 M363.74 99.27h0.7 M368.08 84.77h0.7 M366.82 66.27h0.7 M363.72 70.19h0.7 M365.68 93.10h0.7 M364.55 71.12h0.7 M365.30 91.14h0.7 M367.74 82.72h0.7 M364.65 74.30h0.7 M365.08 78.51h0.7 M364.48 87.51h0.7 M366.71 71.80h0.7 M367.26 76.91h0.7 M367.56 73.79h0.7 M364.41 80.88h0.7 M367.16 68.15h0.7 M364.33 84.29h0.7 M365.34 86.76h0.7 M368.74 87.97h0.7 M364.51 81.83h0.7 M365.11 75.77h0.7 M365.73 79.52h0.7 M363.03 76.48h0.7 M364.92 84.10h0.7 M367.65 74.06h0.7 M365.21 75.74h0.7 M369.73 80.98h0.7 M365.84 82.33h0.7 M366.02 70.45h0.7 M368.01 81.03h0.7 M361.30 79.06h0.7 M364.68 77.70h0.7 M363.19 70.47h0.7 M367.21 78.69h0.7 M365.07 78.91h0.7 M366.61 78.84h0.7 M363.46 67.90h0.7 M360.40 82.63h0.7 M363.54 85.36h0.7 M365.81 78.91h0.7 M368.00 69.01h0.7 M367.10 89.97h0.7 M365.40 84.83h0.7 M362.61 79.19h0.7 M364.33 84.67h0.7 M366.00 89.68h0.7 M362.29 72.47h0.7 M365.72 79.17h0.7 M366.21 83.18h0.7 M365.17 92.23h0.7 M362.53 80.82h0.7 M366.59 73.95h0.7 M366.92 80.11h0.7 M363.76 73.44h0.7 M366.51 92.05h0.7" stroke="#4555b8" stroke-width="0.7" opacity="0.55"/>
<path d="M363.84 62.30h0.7 M368.75 63.96h0.7 M366.02 65.61h0.7 M363.08 66.02h0.7 M368.04 62.73h0.7 M372.48 62.55h0.7 M365.64 64.36h0.7 M367.87 68.67h0.7 M361.62 58.42h0.7 M368.76 62.11h0.7 M364.80 62.71h0.7 M369.54 63.93h0.7 M363.84 57.76h0.7 M362.58 60.90h0.7 M362.59 57.31h0.7 M367.56 65.64h0.7 M364.10 69.13h0.7 M366.80 61.14h0.7 M367.04 64.26h0.7 M364.11 68.51h0.7 M362.51 66.13h0.7 M364.76 67.05h0.7 M366.83 67.64h0.7 M361.23 62.43h0.7 M368.13 61.65h0.7 M370.31 66.43h0.7 M367.95 61.65h0.7 M360.51 63.73h0.7 M365.56 65.69h0.7 M364.49 58.06h0.7 M363.99 56.96h0.7 M363.31 62.72h0.7 M365.83 65.40h0.7 M364.00 65.71h0.7 M365.40 58.14h0.7 M363.45 62.77h0.7 M364.08 60.56h0.7 M366.53 58.19h0.7 M364.88 59.82h0.7 M362.11 62.37h0.7 M368.20 61.85h0.7 M364.15 67.83h0.7 M367.05 65.16h0.7 M368.33 63.91h0.7 M365.55 66.49h0.7 M366.33 58.17h0.7 M367.92 63.87h0.7 M369.69 63.27h0.7 M361.31 63.15h0.7 M365.22 69.49h0.7 M368.45 68.38h0.7 M364.94 63.87h0.7 M369.21 59.61h0.7 M366.60 67.31h0.7 M364.39 63.29h0.7 M360.33 67.25h0.7 M362.88 67.02h0.7 M365.84 57.02h0.7 M361.99 58.11h0.7 M364.23 66.34h0.7 M364.64 63.52h0.7 M361.88 63.41h0.7 M364.37 62.02h0.7 M365.72 67.02h0.7 M366.76 64.44h0.7 M365.53 61.34h0.7 M366.57 64.35h0.7 M365.15 62.92h0.7 M364.50 58.83h0.7 M365.82 56.96h0.7 M365.16 58.83h0.7 M364.61 67.45h0.7 M366.53 65.04h0.7 M364.68 58.51h0.7 M367.14 65.88h0.7 M364.33 61.56h0.7 M364.88 61.43h0.7 M366.76 66.12h0.7 M364.77 68.42h0.7 M364.04 64.48h0.7 M367.34 56.97h0.7 M365.76 61.25h0.7 M365.46 64.58h0.7 M365.51 59.09h0.7 M369.90 67.52h0.7 M366.19 63.49h0.7 M367.56 60.74h0.7 M367.40 59.32h0.7 M367.25 66.03h0.7 M365.63 62.34h0.7" stroke="#5d6fc8" stroke-width="0.7" opacity="0.45"/>
<path d="M366.86 75.32h0.7 M365.82 68.14h0.7 M365.51 87.80h0.7 M367.28 73.73h0.7 M365.05 78.52h0.7 M362.89 89.26h0.7 M366.30 82.91h0.7 M366.64 78.14h0.7 M365.82 84.64h0.7 M366.36 77.30h0.7 M364.34 83.41h0.7 M366.00 73.98h0.7 M366.74 83.52h0.7 M366.03 80.54h0.7 M366.16 87.87h0.7 M365.28 88.23h0.7 M365.86 82.35h0.7 M367.15 81.26h0.7 M366.05 77.00h0.7 M365.61 80.89h0.7 M365.08 76.33h0.7 M366.54 86.01h0.7 M364.72 76.49h0.7 M366.42 86.44h0.7 M364.60 77.99h0.7 M366.77 90.87h0.7 M366.60 73.62h0.7 M366.92 79.82h0.7 M365.32 82.26h0.7 M364.66 75.83h0.7 M362.71 86.70h0.7 M365.86 77.70h0.7 M365.65 79.77h0.7 M365.09 76.10h0.7 M365.29 66.53h0.7 M363.93 78.23h0.7 M367.00 82.73h0.7 M366.41 84.08h0.7 M365.40 81.85h0.7 M365.59 77.57h0.7 M365.58 82.33h0.7 M365.16 76.03h0.7 M365.83 80.35h0.7 M365.83 86.42h0.7 M365.82 80.09h0.7 M364.99 74.17h0.7 M366.17 83.57h0.7 M366.16 83.14h0.7 M365.07 82.50h0.7 M365.83 83.73h0.7 M365.20 86.64h0.7 M366.69 74.79h0.7 M365.52 80.14h0.7 M366.13 87.23h0.7 M364.00 85.99h0.7 M366.30 77.50h0.7 M365.05 83.48h0.7 M365.40 77.76h0.7 M365.26 91.14h0.7 M363.75 90.41h0.7 M364.09 86.37h0.7 M365.16 80.59h0.7 M364.99 78.22h0.7 M366.95 75.78h0.7 M363.38 77.72h0.7 M363.10 75.82h0.7 M365.46 76.63h0.7 M365.07 90.23h0.7 M367.89 89.13h0.7 M367.21 82.35h0.7 M364.85 76.20h0.7 M364.54 75.68h0.7 M365.08 83.46h0.7 M366.99 82.47h0.7 M366.31 76.36h0.7 M366.23 75.69h0.7 M365.55 89.87h0.7 M365.99 78.92h0.7 M366.21 76.51h0.7 M365.73 75.47h0.7 M366.50 79.69h0.7 M365.69 81.74h0.7 M365.89 81.80h0.7 M365.69 79.00h0.7 M366.15 82.75h0.7 M366.69 87.39h0.7 M367.11 80.35h0.7 M365.27 82.51h0.7 M365.76 86.67h0.7 M365.62 85.48h0.7 M364.65 84.41h0.7 M365.35 75.65h0.7 M364.37 74.48h0.7 M365.11 88.95h0.7 M366.61 83.20h0.7 M365.29 82.28h0.7 M364.54 70.95h0.7 M364.67 80.50h0.7 M368.13 70.53h0.7 M364.71 74.90h0.7 M364.60 73.43h0.7 M365.09 73.76h0.7 M365.62 70.89h0.7 M364.85 74.66h0.7 M365.12 82.77h0.7 M364.74 79.77h0.7 M364.98 80.63h0.7 M366.04 78.39h0.7 M366.54 75.11h0.7 M367.35 73.93h0.7 M365.98 83.87h0.7 M367.07 79.83h0.7 M366.27 82.19h0.7 M366.30 82.66h0.7 M365.85 80.72h0.7 M366.69 81.71h0.7 M365.32 73.62h0.7 M364.90 72.96h0.7 M366.64 86.43h0.7 M364.56 79.92h0.7" stroke="#a8c040" stroke-width="0.7" opacity="0.6"/>
<path d="M370.37 65.05h0.7 M381.49 64.32h0.7 M384.04 63.30h0.7 M380.86 65.34h0.7 M381.44 62.52h0.7 M386.68 64.76h0.7 M382.22 66.09h0.7 M375.05 62.48h0.7 M380.72 63.71h0.7 M376.75 63.40h0.7 M380.49 63.76h0.7 M370.76 63.69h0.7 M379.65 63.39h0.7 M383.82 61.32h0.7 M375.60 67.08h0.7 M378.63 65.14h0.7 M380.09 65.47h0.7 M380.35 62.02h0.7 M386.75 63.71h0.7 M379.35 66.07h0.7 M383.17 65.04h0.7 M374.20 62.32h0.7 M382.97 65.45h0.7 M384.14 66.49h0.7 M376.52 64.22h0.7 M387.82 63.35h0.7 M373.77 68.01h0.7 M377.22 66.41h0.7 M371.96 62.44h0.7 M379.30 64.23h0.7 M380.64 65.59h0.7 M380.14 60.93h0.7 M383.37 66.04h0.7 M378.59 64.37h0.7 M369.60 64.57h0.7 M381.88 62.80h0.7 M379.09 62.75h0.7 M383.73 68.25h0.7 M377.13 62.92h0.7 M374.71 66.94h0.7" stroke="#7080c8" stroke-width="0.7" opacity="0.4"/>
<rect x="358.50" y="57.50" width="47.00" height="12.00" fill="none" stroke="#999990" stroke-width="1"/>
<line x1="372.50" y1="57.40" x2="372.50" y2="69.70" stroke="#999990" stroke-width="1"/>
<rect x="358.40" y="69.80" width="13.40" height="52.20" fill="none" stroke="#bf3a5e" stroke-width="1.3"/>
<text x="347.00" y="67.60" font-size="8.4" stroke="#231f20" stroke-width="0.25">G1</text>
<text x="347.00" y="98.20" font-size="8.4" stroke="#231f20" stroke-width="0.25">G0</text>
<text x="408.50" y="79.90" font-size="8.4" text-anchor="end" textLength="27.00" lengthAdjust="spacingAndGlyphs" stroke="#231f20" stroke-width="0.25">S/G2/M</text>
<text x="373.80" y="112.20" font-size="8.4" fill="#bf3a5e" textLength="21.50" lengthAdjust="spacingAndGlyphs" stroke="#bf3a5e" stroke-width="0.25">88.0%</text>
<rect x="417.50" y="52.50" width="72.00" height="70.00" fill="none" stroke="#231f20" stroke-width="1"/>
<path d="M417.50 111.00h-1.5 M417.50 116.00h-1.5 M417.50 101.48h-1.3 M417.50 98.84h-1.3 M417.50 96.97h-1.3 M417.50 95.52h-1.3 M417.50 94.33h-1.3 M417.50 93.32h-1.3 M417.50 92.45h-1.3 M417.50 91.69h-1.3 M417.50 91.00h-2.5 M417.50 86.48h-1.3 M417.50 83.84h-1.3 M417.50 81.97h-1.3 M417.50 80.52h-1.3 M417.50 79.33h-1.3 M417.50 78.32h-1.3 M417.50 77.45h-1.3 M417.50 76.69h-1.3 M417.50 76.00h-2.5 M417.50 71.48h-1.3 M417.50 68.84h-1.3 M417.50 66.97h-1.3 M417.50 65.52h-1.3 M417.50 64.33h-1.3 M417.50 63.32h-1.3 M417.50 62.45h-1.3 M417.50 61.69h-1.3 M417.50 61.00h-2.5 M420.10 122.50v1.3 M422.75 122.50v1.3 M425.40 122.50v1.3 M428.05 122.50v1.3 M430.70 122.50v2.4 M433.35 122.50v1.3 M436.00 122.50v1.3 M438.65 122.50v1.3 M441.30 122.50v1.3 M443.95 122.50v2.4 M446.60 122.50v1.3 M449.25 122.50v1.3 M451.90 122.50v1.3 M454.55 122.50v1.3 M457.20 122.50v2.4 M459.85 122.50v1.3 M462.50 122.50v1.3 M465.15 122.50v1.3 M467.80 122.50v1.3 M470.45 122.50v2.4 M473.10 122.50v1.3 M475.75 122.50v1.3 M478.40 122.50v1.3 M481.05 122.50v1.3 M483.70 122.50v2.4 M486.35 122.50v1.3" stroke="#231f20" stroke-width="0.7" fill="none"/>
<path d="M415.30 104.50h2.2v3h-2.2z" fill="#231f20"/>
<path d="M440.07 82.83h0.7 M444.29 76.15h0.7 M439.87 79.51h0.7 M443.31 88.24h0.7 M440.09 70.30h0.7 M443.74 83.56h0.7 M445.31 87.37h0.7 M442.21 77.94h0.7 M447.28 77.83h0.7 M440.91 71.46h0.7 M442.58 81.09h0.7 M441.74 79.53h0.7 M442.92 85.19h0.7 M444.48 81.57h0.7 M439.00 85.26h0.7 M439.70 78.71h0.7 M439.60 80.02h0.7 M440.92 81.60h0.7 M448.67 79.64h0.7 M444.00 70.08h0.7 M441.85 84.97h0.7 M442.22 82.78h0.7 M442.60 72.45h0.7 M443.47 73.91h0.7 M445.96 76.21h0.7 M443.70 80.02h0.7 M444.21 75.48h0.7 M444.30 79.07h0.7 M444.80 84.68h0.7 M442.67 74.15h0.7 M443.86 83.51h0.7 M445.52 77.17h0.7 M443.45 83.81h0.7 M442.94 81.56h0.7 M442.75 75.51h0.7 M440.47 77.03h0.7 M443.52 91.33h0.7 M444.26 87.90h0.7 M443.88 85.24h0.7 M442.75 85.79h0.7 M445.77 77.54h0.7 M441.08 94.70h0.7 M442.86 87.28h0.7 M444.06 71.48h0.7 M447.02 93.32h0.7 M442.74 85.64h0.7 M442.64 73.37h0.7 M442.19 82.81h0.7 M444.52 85.32h0.7 M442.51 90.16h0.7 M440.95 85.95h0.7 M444.51 77.81h0.7 M439.00 73.20h0.7 M442.85 83.96h0.7 M445.34 72.47h0.7 M442.40 84.87h0.7 M442.10 62.23h0.7 M443.93 97.34h0.7 M444.31 73.12h0.7 M441.62 81.66h0.7 M447.13 84.63h0.7 M442.62 91.68h0.7 M442.24 93.96h0.7 M441.10 76.44h0.7 M443.77 90.68h0.7 M443.64 82.26h0.7 M438.94 74.65h0.7 M441.24 76.00h0.7 M443.51 77.49h0.7 M443.90 80.62h0.7 M441.77 80.89h0.7 M443.21 86.44h0.7 M441.49 78.25h0.7 M439.81 92.03h0.7 M445.16 78.66h0.7 M441.49 70.73h0.7 M442.72 81.55h0.7 M446.55 81.85h0.7 M440.92 61.67h0.7 M445.08 81.42h0.7 M439.34 81.35h0.7 M439.34 106.10h0.7 M444.53 84.29h0.7 M442.07 63.95h0.7 M442.16 68.34h0.7 M443.53 63.96h0.7 M440.68 89.15h0.7 M445.52 71.14h0.7 M439.49 86.60h0.7 M444.02 72.60h0.7 M441.08 74.80h0.7 M440.14 74.90h0.7 M444.78 85.17h0.7 M446.31 79.35h0.7 M442.14 72.63h0.7 M442.16 70.15h0.7 M439.02 85.23h0.7 M445.14 86.28h0.7 M444.93 81.89h0.7 M441.04 80.65h0.7 M441.69 71.66h0.7 M439.18 68.88h0.7 M442.39 81.13h0.7 M441.50 90.72h0.7 M442.74 84.37h0.7 M444.72 73.85h0.7 M438.66 85.64h0.7 M441.09 89.83h0.7 M443.04 87.55h0.7 M443.85 64.40h0.7 M443.77 74.95h0.7 M440.96 76.74h0.7 M443.86 86.63h0.7 M444.32 67.55h0.7 M441.28 62.18h0.7 M442.21 84.50h0.7 M440.95 81.84h0.7 M442.84 87.56h0.7 M440.84 73.78h0.7 M440.95 93.14h0.7 M444.47 79.07h0.7 M442.83 80.86h0.7 M442.79 78.44h0.7 M441.77 70.58h0.7 M441.18 92.38h0.7 M443.42 80.49h0.7 M441.99 80.47h0.7 M443.07 75.16h0.7 M442.77 81.80h0.7 M440.98 74.08h0.7 M440.50 72.02h0.7 M444.09 62.30h0.7 M441.89 75.42h0.7 M441.22 80.73h0.7 M444.54 80.57h0.7 M442.13 75.41h0.7 M442.15 86.84h0.7 M441.65 71.40h0.7 M440.00 71.70h0.7 M439.76 88.24h0.7 M443.07 78.22h0.7 M445.17 75.07h0.7 M443.83 86.01h0.7 M439.46 68.32h0.7 M440.64 86.80h0.7 M444.86 70.79h0.7 M444.39 77.13h0.7 M441.65 75.87h0.7 M441.78 66.36h0.7 M440.50 70.73h0.7 M443.33 95.67h0.7 M447.59 77.48h0.7 M439.13 76.95h0.7 M440.62 94.87h0.7 M443.48 74.53h0.7 M444.18 84.02h0.7 M439.31 76.01h0.7 M441.95 80.14h0.7 M442.65 77.46h0.7 M442.76 75.60h0.7 M440.70 91.37h0.7 M443.08 83.29h0.7 M439.37 78.75h0.7 M443.96 70.32h0.7 M444.49 77.08h0.7 M443.17 79.00h0.7 M442.82 89.03h0.7 M441.63 91.73h0.7 M440.91 73.01h0.7 M443.75 72.01h0.7 M441.70 86.80h0.7 M444.70 66.69h0.7 M443.36 94.13h0.7 M444.67 78.20h0.7 M441.26 77.78h0.7 M440.21 78.02h0.7 M442.04 78.91h0.7 M444.65 78.27h0.7 M439.63 87.88h0.7 M440.36 76.65h0.7 M442.15 77.42h0.7 M440.49 78.13h0.7 M446.55 75.45h0.7 M442.14 88.43h0.7 M443.81 85.72h0.7 M444.04 65.24h0.7 M440.76 80.96h0.7 M443.35 89.71h0.7 M443.29 78.21h0.7 M442.47 78.42h0.7 M442.87 85.06h0.7 M441.75 73.90h0.7 M440.78 88.23h0.7 M444.83 87.44h0.7 M444.03 86.25h0.7 M442.40 84.98h0.7 M440.40 78.48h0.7 M441.01 85.45h0.7 M441.30 79.19h0.7 M443.16 90.16h0.7 M440.90 72.96h0.7 M443.95 71.70h0.7 M443.26 75.72h0.7 M442.20 66.34h0.7 M443.76 76.25h0.7 M440.69 95.58h0.7 M443.75 106.32h0.7 M443.17 77.39h0.7 M442.60 92.05h0.7 M442.35 83.38h0.7 M443.38 73.17h0.7 M442.64 76.23h0.7 M440.03 86.54h0.7 M443.66 80.56h0.7 M440.68 64.96h0.7 M443.32 79.27h0.7 M439.20 79.55h0.7 M439.51 79.80h0.7 M442.67 82.66h0.7 M442.81 81.28h0.7 M440.23 77.12h0.7 M441.43 78.23h0.7 M442.91 84.64h0.7 M445.51 60.73h0.7 M443.16 78.51h0.7 M446.72 87.00h0.7 M439.26 83.01h0.7 M441.41 87.45h0.7 M440.39 79.24h0.7 M442.15 79.27h0.7 M441.29 66.22h0.7 M443.27 87.49h0.7 M442.27 72.37h0.7 M442.79 84.24h0.7 M442.07 79.90h0.7 M445.08 71.61h0.7 M441.34 65.71h0.7 M441.07 74.45h0.7 M440.58 74.80h0.7 M445.81 78.53h0.7 M442.18 96.49h0.7 M442.28 67.00h0.7 M443.17 72.97h0.7 M445.51 70.66h0.7 M441.30 67.96h0.7 M442.59 72.38h0.7 M442.28 77.17h0.7 M441.24 87.07h0.7 M444.18 80.47h0.7 M440.69 71.97h0.7 M442.91 97.93h0.7 M441.53 74.11h0.7 M441.07 71.79h0.7 M440.55 78.46h0.7 M445.12 79.99h0.7 M441.43 67.89h0.7 M442.81 79.80h0.7 M440.07 71.85h0.7 M442.32 87.59h0.7 M443.59 81.54h0.7 M441.79 82.40h0.7 M442.38 96.30h0.7 M440.25 77.24h0.7 M444.81 78.01h0.7 M445.11 79.67h0.7 M442.68 77.22h0.7 M439.78 72.72h0.7 M446.61 84.84h0.7 M443.55 87.15h0.7 M443.48 87.66h0.7 M441.89 78.32h0.7 M444.27 77.36h0.7 M439.87 78.31h0.7 M441.36 84.60h0.7 M441.03 72.04h0.7 M441.77 91.65h0.7 M442.31 81.21h0.7 M442.42 82.22h0.7 M444.16 90.47h0.7 M439.28 90.21h0.7 M442.39 77.59h0.7 M446.96 78.73h0.7 M446.10 87.26h0.7 M440.44 83.66h0.7 M443.80 79.06h0.7 M437.98 77.42h0.7 M442.04 71.69h0.7 M445.87 78.17h0.7 M441.65 77.75h0.7 M440.91 74.18h0.7 M442.58 82.35h0.7 M441.44 79.32h0.7 M439.76 83.91h0.7 M440.98 81.61h0.7 M440.68 76.14h0.7 M442.81 70.92h0.7 M447.09 79.72h0.7 M442.26 74.49h0.7 M445.43 90.39h0.7 M442.97 69.74h0.7 M441.44 84.62h0.7 M441.43 71.12h0.7 M440.14 74.22h0.7 M442.43 75.13h0.7 M442.43 100.94h0.7 M445.77 72.22h0.7 M443.05 80.65h0.7 M442.14 87.82h0.7 M441.77 77.56h0.7 M441.69 79.25h0.7 M444.84 85.82h0.7 M439.85 76.69h0.7 M440.88 86.12h0.7 M442.83 86.67h0.7 M442.28 65.68h0.7 M443.26 81.71h0.7 M443.37 70.23h0.7 M442.55 74.84h0.7 M441.09 82.65h0.7 M443.07 73.31h0.7 M439.15 61.44h0.7 M441.31 88.42h0.7 M442.30 63.11h0.7 M440.76 83.16h0.7 M445.58 88.76h0.7 M443.10 81.48h0.7 M440.39 76.61h0.7 M441.77 74.19h0.7 M442.52 77.05h0.7 M443.04 90.76h0.7 M443.81 83.13h0.7 M441.94 68.60h0.7 M442.18 84.08h0.7 M440.48 89.40h0.7 M441.77 82.79h0.7 M441.78 70.58h0.7 M446.33 71.29h0.7 M444.14 75.83h0.7 M442.93 73.96h0.7 M441.61 86.90h0.7 M446.10 73.65h0.7 M442.42 87.11h0.7 M441.20 85.33h0.7 M440.91 84.53h0.7 M443.23 89.09h0.7 M443.09 71.05h0.7 M443.66 71.74h0.7 M443.83 91.33h0.7 M443.53 75.85h0.7 M444.67 81.26h0.7 M440.03 77.34h0.7 M445.10 77.72h0.7 M442.63 77.43h0.7 M439.20 76.17h0.7 M443.08 81.56h0.7 M442.07 63.99h0.7 M444.72 85.40h0.7 M444.34 89.75h0.7 M441.55 75.47h0.7 M443.00 92.55h0.7 M439.20 78.28h0.7 M441.04 84.19h0.7 M445.18 77.78h0.7 M440.04 80.37h0.7 M441.86 68.43h0.7 M444.08 76.07h0.7 M443.70 70.13h0.7 M444.48 69.19h0.7 M444.40 66.42h0.7 M445.02 77.19h0.7 M439.44 78.24h0.7 M443.04 72.57h0.7 M441.46 82.02h0.7 M442.08 57.01h0.7 M441.58 83.20h0.7 M442.97 87.57h0.7 M441.09 99.15h0.7 M443.92 82.34h0.7 M444.46 87.16h0.7 M442.59 75.35h0.7 M444.35 83.17h0.7 M438.80 71.72h0.7 M443.29 80.82h0.7 M442.93 84.81h0.7 M442.68 91.87h0.7 M441.28 77.00h0.7 M443.01 85.59h0.7 M443.90 91.16h0.7 M441.49 88.75h0.7 M443.29 72.18h0.7 M442.14 95.64h0.7 M443.89 76.48h0.7 M437.84 74.48h0.7 M441.07 80.58h0.7 M446.79 85.60h0.7 M442.99 72.99h0.7 M440.15 78.44h0.7 M441.51 102.55h0.7 M441.63 75.38h0.7 M444.54 80.58h0.7 M440.05 89.67h0.7 M441.81 70.03h0.7 M443.01 83.66h0.7 M441.76 85.23h0.7 M443.96 73.38h0.7 M438.49 62.05h0.7 M442.16 89.23h0.7 M444.30 90.44h0.7 M445.93 80.12h0.7 M444.41 68.53h0.7 M443.71 82.95h0.7 M442.22 76.68h0.7 M440.28 81.05h0.7 M444.83 77.25h0.7 M443.41 75.02h0.7 M442.88 72.45h0.7 M443.12 78.36h0.7 M443.00 75.45h0.7 M440.17 77.53h0.7 M444.37 91.84h0.7" stroke="#4555b8" stroke-width="0.7" opacity="0.55"/>
<path d="M443.47 63.13h0.7 M439.79 66.31h0.7 M443.09 64.31h0.7 M442.82 68.85h0.7 M444.57 67.60h0.7 M441.77 61.38h0.7 M440.06 62.15h0.7 M436.11 69.12h0.7 M442.77 63.39h0.7 M444.48 61.69h0.7 M443.03 65.97h0.7 M438.78 69.54h0.7 M442.78 65.37h0.7 M440.01 60.76h0.7 M446.43 61.08h0.7 M441.49 64.86h0.7 M445.81 54.00h0.7 M445.92 64.08h0.7 M444.56 59.26h0.7 M443.18 69.12h0.7 M442.22 60.72h0.7 M441.42 61.09h0.7 M444.32 63.81h0.7 M441.28 66.03h0.7 M439.87 57.69h0.7 M448.25 60.69h0.7 M446.28 62.75h0.7 M441.93 65.04h0.7 M440.43 59.92h0.7 M441.95 61.62h0.7 M444.14 70.38h0.7 M439.67 59.79h0.7 M444.23 65.00h0.7 M445.09 60.29h0.7 M443.85 62.88h0.7 M438.61 64.76h0.7 M438.75 65.10h0.7 M441.38 62.34h0.7 M447.51 68.81h0.7 M443.46 64.57h0.7 M440.63 67.76h0.7 M443.92 59.84h0.7 M438.52 63.07h0.7 M442.03 66.33h0.7 M440.02 59.76h0.7 M443.44 63.40h0.7 M444.69 67.29h0.7 M440.32 54.18h0.7 M442.59 60.33h0.7 M443.02 52.90h0.7 M442.21 63.43h0.7 M441.13 65.01h0.7 M442.70 63.95h0.7 M445.52 67.95h0.7 M445.29 64.49h0.7 M442.79 65.21h0.7 M443.20 60.34h0.7 M443.38 66.53h0.7 M441.49 58.99h0.7 M443.82 60.26h0.7 M438.94 62.16h0.7 M439.01 64.33h0.7 M441.25 63.39h0.7 M445.15 67.29h0.7 M442.23 54.63h0.7 M441.34 58.71h0.7 M444.57 68.93h0.7 M444.10 65.50h0.7 M443.77 65.65h0.7 M441.59 66.45h0.7 M441.73 58.76h0.7 M442.57 69.07h0.7 M442.01 56.47h0.7 M445.37 63.99h0.7 M443.75 61.34h0.7 M443.59 69.13h0.7 M440.94 65.68h0.7 M443.29 59.86h0.7 M442.89 65.30h0.7 M440.48 67.47h0.7 M439.84 67.43h0.7 M443.92 64.07h0.7 M440.62 60.17h0.7 M437.25 63.01h0.7 M442.16 65.18h0.7 M444.87 63.85h0.7 M441.67 66.79h0.7 M442.44 63.00h0.7 M439.71 67.04h0.7 M440.89 70.34h0.7" stroke="#5d6fc8" stroke-width="0.7" opacity="0.45"/>
<path d="M443.18 87.24h0.7 M441.64 75.29h0.7 M442.78 89.53h0.7 M442.83 73.84h0.7 M441.67 79.87h0.7 M443.36 80.11h0.7 M442.07 78.94h0.7 M442.60 76.15h0.7 M442.43 81.61h0.7 M444.04 79.86h0.7 M443.38 74.62h0.7 M443.27 81.04h0.7 M441.90 80.04h0.7 M443.32 78.43h0.7 M443.44 88.38h0.7 M444.02 88.91h0.7 M441.19 82.02h0.7 M441.77 85.28h0.7 M442.51 81.40h0.7 M442.89 77.00h0.7 M442.53 76.31h0.7 M444.48 77.73h0.7 M442.45 70.67h0.7 M440.99 75.68h0.7 M443.22 84.35h0.7 M442.71 76.74h0.7 M444.25 74.66h0.7 M441.60 82.82h0.7 M441.46 81.64h0.7 M443.39 79.82h0.7 M442.84 80.41h0.7 M441.77 63.06h0.7 M441.24 80.16h0.7 M440.82 77.15h0.7 M442.64 87.42h0.7 M441.09 77.33h0.7 M442.66 83.04h0.7 M441.08 90.26h0.7 M441.63 86.09h0.7 M442.24 82.41h0.7 M444.08 84.04h0.7 M442.56 74.75h0.7 M441.79 72.46h0.7 M444.43 71.76h0.7 M439.89 89.12h0.7 M443.70 78.24h0.7 M443.26 75.72h0.7 M441.87 82.92h0.7 M442.82 77.70h0.7 M444.04 84.20h0.7 M442.57 73.75h0.7 M442.57 78.46h0.7 M442.36 84.55h0.7 M441.86 81.63h0.7 M443.22 82.11h0.7 M444.71 70.67h0.7 M442.37 73.72h0.7 M442.36 93.89h0.7 M440.81 78.58h0.7 M443.08 80.67h0.7 M443.34 71.67h0.7 M443.40 74.94h0.7 M441.22 83.25h0.7 M442.90 76.17h0.7 M441.61 79.05h0.7 M442.42 79.22h0.7 M441.42 67.46h0.7 M443.73 81.09h0.7 M441.19 71.56h0.7 M441.73 77.86h0.7 M440.31 87.76h0.7 M442.84 78.35h0.7 M442.77 81.37h0.7 M443.47 80.95h0.7 M443.67 88.55h0.7 M442.11 77.63h0.7 M441.54 78.83h0.7 M441.70 80.15h0.7 M442.72 83.03h0.7 M441.27 86.01h0.7 M442.11 79.48h0.7 M441.90 69.14h0.7 M442.67 70.38h0.7 M443.52 80.30h0.7 M443.97 83.63h0.7 M443.11 87.73h0.7 M442.37 88.49h0.7 M442.29 81.48h0.7 M441.74 83.04h0.7 M443.08 77.31h0.7 M441.14 79.86h0.7 M442.83 79.20h0.7 M441.44 76.11h0.7 M442.15 65.69h0.7 M441.83 87.93h0.7 M441.13 78.86h0.7 M444.09 83.94h0.7 M443.33 79.25h0.7 M441.09 95.81h0.7 M442.71 81.37h0.7 M444.04 84.49h0.7 M442.47 74.02h0.7 M442.26 79.24h0.7 M441.74 75.31h0.7 M441.41 79.40h0.7 M441.82 82.28h0.7 M443.42 81.77h0.7 M442.43 88.58h0.7 M443.06 71.95h0.7 M441.69 81.10h0.7 M441.53 84.19h0.7 M440.66 69.59h0.7 M443.38 83.21h0.7 M440.81 80.45h0.7 M443.74 73.93h0.7 M441.22 73.37h0.7 M441.43 70.53h0.7 M441.92 72.09h0.7 M442.47 92.26h0.7 M441.36 84.99h0.7" stroke="#a8c040" stroke-width="0.7" opacity="0.6"/>
<path d="M452.68 64.98h0.7 M459.26 67.83h0.7 M449.40 62.56h0.7 M451.08 63.36h0.7 M454.20 61.40h0.7 M455.95 61.11h0.7 M457.09 62.18h0.7 M456.08 64.94h0.7 M454.39 62.81h0.7 M451.66 61.70h0.7 M461.32 65.28h0.7 M462.66 64.83h0.7 M456.31 62.83h0.7 M453.83 60.79h0.7 M459.01 66.11h0.7 M461.10 67.10h0.7 M450.61 58.81h0.7 M458.10 64.58h0.7 M450.81 62.13h0.7 M458.26 67.81h0.7 M456.73 62.61h0.7 M458.41 66.36h0.7 M449.87 65.63h0.7 M450.79 64.08h0.7 M456.93 64.15h0.7 M448.56 64.83h0.7 M448.90 65.49h0.7 M446.81 62.98h0.7 M452.82 62.54h0.7 M455.75 64.56h0.7 M462.52 64.98h0.7 M459.51 61.63h0.7 M459.35 65.86h0.7 M460.63 67.01h0.7 M451.07 61.24h0.7 M451.58 62.68h0.7 M460.72 59.84h0.7 M455.02 66.14h0.7 M454.17 61.00h0.7 M451.10 65.16h0.7" stroke="#7080c8" stroke-width="0.7" opacity="0.4"/>
<rect x="435.50" y="57.50" width="47.00" height="12.00" fill="none" stroke="#999990" stroke-width="1"/>
<line x1="448.50" y1="57.40" x2="448.50" y2="69.70" stroke="#999990" stroke-width="1"/>
<rect x="435.20" y="69.80" width="13.10" height="52.20" fill="none" stroke="#bf3a5e" stroke-width="1.3"/>
<text x="424.00" y="67.60" font-size="8.4" stroke="#231f20" stroke-width="0.25">G1</text>
<text x="424.00" y="98.20" font-size="8.4" stroke="#231f20" stroke-width="0.25">G0</text>
<text x="485.50" y="79.90" font-size="8.4" text-anchor="end" textLength="27.00" lengthAdjust="spacingAndGlyphs" stroke="#231f20" stroke-width="0.25">S/G2/M</text>
<text x="450.30" y="112.20" font-size="8.4" fill="#bf3a5e" textLength="21.50" lengthAdjust="spacingAndGlyphs" stroke="#bf3a5e" stroke-width="0.25">83.2%</text>
<line x1="334.50" y1="55.00" x2="334.50" y2="123.60" stroke="#231f20" stroke-width="1"/>
<path d="M331.8 57 L334 51.8 L336.2 57 Z" fill="#231f20"/>
<line x1="340.80" y1="128.50" x2="484.00" y2="128.50" stroke="#231f20" stroke-width="1"/>
<path d="M483 126.6 L488.5 128.8 L483 131 Z" fill="#231f20"/>
<text x="329.70" y="90.00" font-size="8.5" text-anchor="middle" transform="rotate(-90 329.70 90.00)" stroke="#231f20" stroke-width="0.25">Ki67</text>
<text x="398.50" y="140.50" font-size="8.4" textLength="28.20" lengthAdjust="spacingAndGlyphs" stroke="#231f20" stroke-width="0.25">Hoechst</text>
<line x1="349.50" y1="161.25" x2="349.50" y2="265.50" stroke="#231f20" stroke-width="1"/>
<line x1="345.75" y1="172.50" x2="349.25" y2="172.50" stroke="#231f20" stroke-width="1"/>
<line x1="345.75" y1="195.50" x2="349.25" y2="195.50" stroke="#231f20" stroke-width="1"/>
<line x1="345.75" y1="242.50" x2="349.25" y2="242.50" stroke="#231f20" stroke-width="1"/>
<line x1="345.75" y1="265.50" x2="349.25" y2="265.50" stroke="#231f20" stroke-width="1"/>
<text x="344.00" y="175.00" font-size="8.2" text-anchor="end" textLength="8.75" lengthAdjust="spacingAndGlyphs" stroke="#231f20" stroke-width="0.25">90</text>
<text x="344.00" y="198.50" font-size="8.2" text-anchor="end" textLength="8.75" lengthAdjust="spacingAndGlyphs" stroke="#231f20" stroke-width="0.25">80</text>
<text x="344.00" y="245.00" font-size="8.2" text-anchor="end" textLength="8.75" lengthAdjust="spacingAndGlyphs" stroke="#231f20" stroke-width="0.25">10</text>
<text x="344.00" y="268.00" font-size="8.2" text-anchor="end" stroke="#231f20" stroke-width="0.25">0</text>
<line x1="349.00" y1="265.50" x2="502.20" y2="265.50" stroke="#231f20" stroke-width="1"/>
<rect x="365.00" y="177.00" width="7.50" height="88.00" fill="#2c4e82"/>
<rect x="374.50" y="175.75" width="8.00" height="89.25" fill="#65a941"/>
<rect x="383.75" y="188.00" width="8.25" height="77.00" fill="#a8002c"/>
<rect x="412.70" y="252.40" width="8.10" height="12.60" fill="#2c4e82"/>
<rect x="422.00" y="253.50" width="8.00" height="11.50" fill="#65a941"/>
<rect x="431.60" y="243.20" width="8.10" height="21.80" fill="#a8002c"/>
<rect x="460.50" y="260.00" width="7.80" height="5.00" fill="#2c4e82"/>
<rect x="470.00" y="260.00" width="7.80" height="5.00" fill="#65a941"/>
<rect x="479.40" y="257.70" width="7.80" height="7.30" fill="#a8002c"/>
<polygon points="342.7,222.1 357.3,217.2 357.3,219.8 342.7,224.5" fill="#fff"/>
<polygon points="360.9,222.1 394.7,213 394.7,216.1 360.9,224.9" fill="#fff"/>
<path d="M342.7 222.1 L357.3 217.2 M342.7 224.5 L357.3 219.8 M360.9 222.1 L394.7 213 M360.9 224.9 L394.7 216.1" stroke="#231f20" stroke-width="1.1"/>
<line x1="368.50" y1="177.00" x2="368.50" y2="174.00" stroke="#231f20" stroke-width="1"/>
<line x1="367.55" y1="174.50" x2="369.95" y2="174.50" stroke="#231f20" stroke-width="1"/>
<path d="M368.75 174.00h0.01 M367.95 176.00h0.01 M369.55 178.00h0.01" stroke="#231f20" stroke-width="1.9" stroke-linecap="round"/>
<line x1="378.50" y1="175.75" x2="378.50" y2="172.75" stroke="#231f20" stroke-width="1"/>
<line x1="377.30" y1="172.50" x2="379.70" y2="172.50" stroke="#231f20" stroke-width="1"/>
<path d="M378.50 172.50h0.01 M377.70 174.50h0.01 M379.30 177.00h0.01" stroke="#231f20" stroke-width="1.9" stroke-linecap="round"/>
<line x1="387.50" y1="188.00" x2="387.50" y2="179.00" stroke="#231f20" stroke-width="1"/>
<line x1="386.70" y1="179.50" x2="389.10" y2="179.50" stroke="#231f20" stroke-width="1"/>
<path d="M387.90 179.50h0.01 M387.40 183.00h0.01 M388.70 187.00h0.01 M387.90 199.00h0.01" stroke="#231f20" stroke-width="1.9" stroke-linecap="round"/>
<line x1="416.50" y1="252.40" x2="416.50" y2="245.70" stroke="#231f20" stroke-width="1"/>
<line x1="415.55" y1="245.50" x2="417.95" y2="245.50" stroke="#231f20" stroke-width="1"/>
<path d="M416.75 240.40h0.01 M415.95 246.50h0.01 M417.35 250.00h0.01 M416.35 253.00h0.01 M417.55 256.00h0.01 M416.15 259.00h0.01" stroke="#231f20" stroke-width="1.9" stroke-linecap="round"/>
<line x1="426.50" y1="253.50" x2="426.50" y2="246.60" stroke="#231f20" stroke-width="1"/>
<line x1="424.80" y1="246.50" x2="427.20" y2="246.50" stroke="#231f20" stroke-width="1"/>
<path d="M426.00 242.40h0.01 M425.20 248.00h0.01 M426.60 252.00h0.01 M425.60 256.00h0.01 M426.80 259.00h0.01" stroke="#231f20" stroke-width="1.9" stroke-linecap="round"/>
<line x1="435.50" y1="243.20" x2="435.50" y2="231.90" stroke="#231f20" stroke-width="1"/>
<line x1="434.45" y1="231.50" x2="436.85" y2="231.50" stroke="#231f20" stroke-width="1"/>
<path d="M435.65 227.20h0.01 M434.85 251.00h0.01 M436.25 254.00h0.01" stroke="#231f20" stroke-width="1.9" stroke-linecap="round"/>
<line x1="464.50" y1="260.00" x2="464.50" y2="258.00" stroke="#231f20" stroke-width="1"/>
<line x1="463.20" y1="258.50" x2="465.60" y2="258.50" stroke="#231f20" stroke-width="1"/>
<path d="M464.40 258.00h0.01 M463.60 260.00h0.01 M465.20 262.00h0.01" stroke="#231f20" stroke-width="1.9" stroke-linecap="round"/>
<line x1="473.50" y1="260.00" x2="473.50" y2="258.00" stroke="#231f20" stroke-width="1"/>
<line x1="472.70" y1="258.50" x2="475.10" y2="258.50" stroke="#231f20" stroke-width="1"/>
<path d="M473.90 258.00h0.01 M473.10 260.00h0.01 M474.70 262.00h0.01" stroke="#231f20" stroke-width="1.9" stroke-linecap="round"/>
<line x1="483.50" y1="257.70" x2="483.50" y2="255.20" stroke="#231f20" stroke-width="1"/>
<line x1="482.10" y1="255.50" x2="484.50" y2="255.50" stroke="#231f20" stroke-width="1"/>
<path d="M483.30 255.30h0.01 M482.50 258.00h0.01 M484.10 260.00h0.01" stroke="#231f20" stroke-width="1.9" stroke-linecap="round"/>
<text x="363.75" y="160.00" font-size="8.2" textLength="28.75" lengthAdjust="spacingAndGlyphs" stroke="#231f20" stroke-width="0.25">p &lt; 0.05</text>
<path d="M368.25 167.05V164.25H388.75V167.05" stroke="#231f20" stroke-width="0.8" fill="none"/>
<text x="329.40" y="212.50" font-size="8.5" text-anchor="middle" textLength="48.00" lengthAdjust="spacingAndGlyphs" transform="rotate(-90 329.40 212.50)" stroke="#231f20" stroke-width="0.25">Frequency (%)</text>
<text x="378.25" y="276.30" font-size="8.4" text-anchor="middle" stroke="#231f20" stroke-width="0.25">G0</text>
<text x="425.80" y="276.30" font-size="8.4" text-anchor="middle" stroke="#231f20" stroke-width="0.25">G1</text>
<text x="473.80" y="276.30" font-size="8.4" text-anchor="middle" textLength="27.00" lengthAdjust="spacingAndGlyphs" stroke="#231f20" stroke-width="0.25">S/G2/M</text>
<rect x="411.00" y="165.00" width="25.50" height="6.30" fill="#2c4e82"/>
<text x="439.80" y="170.80" font-size="8.3" textLength="22.30" lengthAdjust="spacingAndGlyphs" font-style="italic" stroke="#231f20" stroke-width="0.25">Runx1</text>
<text x="462.10" y="167.70" font-size="5.9" textLength="8.60" lengthAdjust="spacingAndGlyphs" font-style="italic" stroke="#231f20" stroke-width="0.12">+/+</text>
<rect x="411.00" y="177.00" width="25.50" height="6.30" fill="#65a941"/>
<text x="439.80" y="182.60" font-size="8.3" textLength="22.30" lengthAdjust="spacingAndGlyphs" font-style="italic" stroke="#231f20" stroke-width="0.25">Runx1</text>
<text x="462.10" y="179.50" font-size="5.9" textLength="24.50" lengthAdjust="spacingAndGlyphs" font-style="italic" stroke="#231f20" stroke-width="0.12">+/KTAMK</text>
<rect x="411.00" y="188.70" width="25.50" height="6.30" fill="#a8002c"/>
<text x="439.80" y="194.40" font-size="8.3" textLength="22.30" lengthAdjust="spacingAndGlyphs" font-style="italic" stroke="#231f20" stroke-width="0.25">Runx1</text>
<text x="462.10" y="191.30" font-size="5.9" textLength="39.50" lengthAdjust="spacingAndGlyphs" font-style="italic" stroke="#231f20" stroke-width="0.12">KTAMK/KTAMK</text>
<text x="320.80" y="309.50" font-size="11.0" fill="#000" font-weight="bold" stroke="#000" stroke-width="0.4">E</text>
<line x1="349.50" y1="328.00" x2="349.50" y2="433.25" stroke="#231f20" stroke-width="1"/>
<line x1="346.00" y1="333.50" x2="349.50" y2="333.50" stroke="#231f20" stroke-width="1"/>
<line x1="346.00" y1="358.50" x2="349.50" y2="358.50" stroke="#231f20" stroke-width="1"/>
<line x1="346.00" y1="383.50" x2="349.50" y2="383.50" stroke="#231f20" stroke-width="1"/>
<line x1="346.00" y1="407.50" x2="349.50" y2="407.50" stroke="#231f20" stroke-width="1"/>
<line x1="346.00" y1="432.50" x2="349.50" y2="432.50" stroke="#231f20" stroke-width="1"/>
<text x="343.50" y="336.75" font-size="8.2" text-anchor="end" textLength="8.75" lengthAdjust="spacingAndGlyphs" stroke="#231f20" stroke-width="0.25">80</text>
<text x="343.50" y="361.30" font-size="8.2" text-anchor="end" textLength="8.75" lengthAdjust="spacingAndGlyphs" stroke="#231f20" stroke-width="0.25">60</text>
<text x="343.50" y="386.00" font-size="8.2" text-anchor="end" textLength="8.75" lengthAdjust="spacingAndGlyphs" stroke="#231f20" stroke-width="0.25">40</text>
<text x="343.50" y="410.60" font-size="8.2" text-anchor="end" textLength="8.75" lengthAdjust="spacingAndGlyphs" stroke="#231f20" stroke-width="0.25">20</text>
<text x="343.50" y="435.80" font-size="8.2" text-anchor="end" stroke="#231f20" stroke-width="0.25">0</text>
<line x1="347.50" y1="432.50" x2="424.25" y2="432.50" stroke="#231f20" stroke-width="1"/>
<rect x="369.25" y="372.50" width="10.75" height="60.00" fill="#2c4e82"/>
<rect x="382.00" y="363.00" width="10.50" height="69.50" fill="#65a941"/>
<rect x="394.50" y="353.25" width="10.50" height="79.25" fill="#a8002c"/>
<line x1="374.50" y1="372.50" x2="374.50" y2="358.50" stroke="#231f20" stroke-width="1"/>
<line x1="373.40" y1="358.50" x2="375.80" y2="358.50" stroke="#231f20" stroke-width="1"/>
<path d="M374.60 357.50h0.01 M373.80 362.00h0.01 M375.40 366.00h0.01 M373.60 370.00h0.01 M375.20 374.00h0.01 M374.20 377.00h0.01 M375.60 381.00h0.01 M373.80 386.00h0.01 M374.60 393.00h0.01" stroke="#231f20" stroke-width="1.9" stroke-linecap="round"/>
<line x1="387.50" y1="363.00" x2="387.50" y2="349.50" stroke="#231f20" stroke-width="1"/>
<line x1="386.05" y1="349.50" x2="388.45" y2="349.50" stroke="#231f20" stroke-width="1"/>
<path d="M387.25 344.00h0.01 M387.85 350.00h0.01 M386.65 353.00h0.01 M387.25 355.00h0.01 M388.05 358.00h0.01 M386.45 364.00h0.01 M387.65 368.00h0.01 M386.75 372.00h0.01 M387.25 382.00h0.01 M386.25 382.00h0.01" stroke="#231f20" stroke-width="1.9" stroke-linecap="round"/>
<line x1="399.50" y1="353.25" x2="399.50" y2="339.25" stroke="#231f20" stroke-width="1"/>
<line x1="398.55" y1="339.50" x2="400.95" y2="339.50" stroke="#231f20" stroke-width="1"/>
<path d="M399.75 336.50h0.01 M401.55 331.50h0.01 M399.15 339.00h0.01 M400.35 342.00h0.01 M398.95 346.00h0.01 M399.95 350.00h0.01 M399.35 356.00h0.01 M400.35 360.00h0.01 M399.55 368.00h0.01 M399.75 383.00h0.01" stroke="#231f20" stroke-width="1.9" stroke-linecap="round"/>
<text x="373.25" y="319.80" font-size="8.2" textLength="27.25" lengthAdjust="spacingAndGlyphs" stroke="#231f20" stroke-width="0.25">p &lt; 0.01</text>
<path d="M374.50 326.05V323.25H399.50V326.05" stroke="#231f20" stroke-width="0.8" fill="none"/>
<text x="367.00" y="335.00" font-size="8.2" textLength="27.50" lengthAdjust="spacingAndGlyphs" stroke="#231f20" stroke-width="0.25">p &lt; 0.05</text>
<path d="M374.50 339.80V337.00H386.75V339.80" stroke="#231f20" stroke-width="0.8" fill="none"/>
<text x="328.60" y="380.00" font-size="8.5" text-anchor="middle" textLength="75.00" lengthAdjust="spacingAndGlyphs" transform="rotate(-90 328.60 380.00)" stroke="#231f20" stroke-width="0.25">Colonies/10,000 cells</text>
<rect x="423.75" y="322.00" width="25.50" height="6.30" fill="#2c4e82"/>
<text x="452.40" y="327.80" font-size="8.2" textLength="21.80" lengthAdjust="spacingAndGlyphs" font-style="italic" stroke="#231f20" stroke-width="0.25">Runx1</text>
<text x="474.20" y="324.70" font-size="5.7" textLength="8.10" lengthAdjust="spacingAndGlyphs" font-style="italic" stroke="#231f20" stroke-width="0.12">+/+</text>
<rect x="423.75" y="334.00" width="25.50" height="6.30" fill="#65a941"/>
<text x="452.40" y="339.60" font-size="8.2" textLength="21.80" lengthAdjust="spacingAndGlyphs" font-style="italic" stroke="#231f20" stroke-width="0.25">Runx1</text>
<text x="474.20" y="336.50" font-size="5.7" textLength="24.30" lengthAdjust="spacingAndGlyphs" font-style="italic" stroke="#231f20" stroke-width="0.12">+/KTAMK</text>
<rect x="423.75" y="346.00" width="25.50" height="6.30" fill="#a8002c"/>
<text x="452.40" y="351.40" font-size="8.2" textLength="21.80" lengthAdjust="spacingAndGlyphs" font-style="italic" stroke="#231f20" stroke-width="0.25">Runx1</text>
<text x="474.20" y="348.30" font-size="5.7" textLength="38.80" lengthAdjust="spacingAndGlyphs" font-style="italic" stroke="#231f20" stroke-width="0.12">KTAMK/KTAMK</text>
<text x="237.20" y="487.00" font-size="11.2" fill="#000" font-weight="bold" stroke="#000" stroke-width="0.4">F</text>
<text x="264.20" y="497.00" font-size="10.2" textLength="163.60" lengthAdjust="spacingAndGlyphs" stroke="#231f20" stroke-width="0.25">Peripheral blood chimerism (1<tspan dy="-3.5" font-size="7">st</tspan><tspan dy="3.5"> BMT)</tspan></text>
<text x="265.00" y="508.30" font-size="8.4" textLength="67.90" lengthAdjust="spacingAndGlyphs" stroke="#231f20" stroke-width="0.25"><tspan dy="-0.00">CD45</tspan><tspan dy="-2.90" font-size="5.20">+</tspan><tspan dy="2.90"> total WBCs</tspan></text>
<text x="352.50" y="508.30" font-size="8.4" textLength="79.60" lengthAdjust="spacingAndGlyphs" stroke="#231f20" stroke-width="0.25"><tspan dy="-0.00">CD11b</tspan><tspan dy="-2.90" font-size="5.20">+</tspan><tspan dy="2.90"> myeloid cells</tspan></text>
<line x1="266.50" y1="515.60" x2="266.50" y2="639.70" stroke="#231f20" stroke-width="1"/>
<line x1="262.80" y1="517.50" x2="266.30" y2="517.50" stroke="#231f20" stroke-width="1"/>
<line x1="262.80" y1="541.50" x2="266.30" y2="541.50" stroke="#231f20" stroke-width="1"/>
<line x1="262.80" y1="566.50" x2="266.30" y2="566.50" stroke="#231f20" stroke-width="1"/>
<line x1="262.80" y1="590.50" x2="266.30" y2="590.50" stroke="#231f20" stroke-width="1"/>
<line x1="262.80" y1="614.50" x2="266.30" y2="614.50" stroke="#231f20" stroke-width="1"/>
<line x1="262.80" y1="639.50" x2="266.30" y2="639.50" stroke="#231f20" stroke-width="1"/>
<text x="261.70" y="544.70" font-size="8.4" text-anchor="end" textLength="9.60" lengthAdjust="spacingAndGlyphs" stroke="#231f20" stroke-width="0.25">80</text>
<text x="261.70" y="569.20" font-size="8.4" text-anchor="end" textLength="9.60" lengthAdjust="spacingAndGlyphs" stroke="#231f20" stroke-width="0.25">60</text>
<text x="261.70" y="593.70" font-size="8.4" text-anchor="end" textLength="9.60" lengthAdjust="spacingAndGlyphs" stroke="#231f20" stroke-width="0.25">40</text>
<text x="261.70" y="618.00" font-size="8.4" text-anchor="end" textLength="9.60" lengthAdjust="spacingAndGlyphs" stroke="#231f20" stroke-width="0.25">20</text>
<text x="261.50" y="642.30" font-size="8.4" text-anchor="end" stroke="#231f20" stroke-width="0.25">0</text>
<line x1="265.80" y1="639.50" x2="332.30" y2="639.50" stroke="#231f20" stroke-width="1"/>
<text x="275.80" y="650.00" font-size="8.4" text-anchor="middle" stroke="#231f20" stroke-width="0.25">4</text>
<text x="291.20" y="650.00" font-size="8.4" text-anchor="middle" stroke="#231f20" stroke-width="0.25">8</text>
<text x="306.90" y="650.00" font-size="8.4" text-anchor="middle" stroke="#231f20" stroke-width="0.25">12</text>
<text x="323.10" y="650.00" font-size="8.4" text-anchor="middle" stroke="#231f20" stroke-width="0.25">16</text>
<line x1="275.80" y1="591.10" x2="275.80" y2="627.00" stroke="#6283b8" stroke-width="1.5"/>
<line x1="291.20" y1="586.00" x2="291.20" y2="631.20" stroke="#6283b8" stroke-width="1.5"/>
<line x1="306.90" y1="578.10" x2="306.90" y2="632.00" stroke="#6283b8" stroke-width="1.5"/>
<line x1="323.10" y1="571.40" x2="323.10" y2="632.90" stroke="#6283b8" stroke-width="1.5"/>
<path d="M277.29 592.00h0.01 M275.93 598.00h0.01 M276.36 609.30h0.01 M275.63 619.40h0.01 M274.82 626.20h0.01 M275.42 624.00h0.01 M291.50 590.00h0.01 M289.78 598.00h0.01 M292.70 604.00h0.01 M289.88 610.00h0.01 M292.14 614.00h0.01 M291.28 620.00h0.01 M289.69 624.00h0.01 M291.42 628.00h0.01 M290.65 630.00h0.01 M305.94 583.00h0.01 M305.60 590.00h0.01 M308.27 596.00h0.01 M307.37 603.00h0.01 M305.83 610.00h0.01 M307.21 614.00h0.01 M307.37 620.00h0.01 M306.85 630.00h0.01 M323.68 586.00h0.01 M323.22 594.00h0.01 M322.46 600.00h0.01 M323.73 604.00h0.01 M322.88 607.00h0.01 M321.53 612.00h0.01 M324.43 617.00h0.01 M323.50 623.00h0.01 M322.85 630.00h0.01" stroke="#2c4e82" stroke-width="1.9" stroke-linecap="round"/>
<path d="M274.93 570.20h0.01 M276.60 597.90h0.01 M276.98 611.90h0.01 M275.81 617.40h0.01 M290.57 557.90h0.01 M291.95 596.70h0.01 M290.86 611.00h0.01 M291.74 618.10h0.01 M307.80 547.30h0.01 M307.68 585.40h0.01 M306.09 597.20h0.01 M306.51 611.90h0.01 M307.73 619.40h0.01 M322.18 543.60h0.01 M322.47 581.50h0.01 M321.94 588.80h0.01 M322.09 607.60h0.01 M322.10 619.80h0.01 M323.91 627.90h0.01" stroke="#a8002c" stroke-width="2" stroke-linecap="round"/>
<polyline points="275.80,606.80 323.10,599.20" stroke="#a8002c" stroke-width="1.8" fill="none"/>
<path d="M275.8 618.6 C281.8 615.6 286.2 612.6 291.2 612.6 S302.9 611.1 306.9 611.1 S320.1 611.4 323.1 611.4" stroke="#2c4e82" stroke-width="1.8" fill="none"/>
<line x1="358.50" y1="515.60" x2="358.50" y2="639.70" stroke="#231f20" stroke-width="1"/>
<line x1="355.30" y1="517.50" x2="358.80" y2="517.50" stroke="#231f20" stroke-width="1"/>
<line x1="355.30" y1="541.50" x2="358.80" y2="541.50" stroke="#231f20" stroke-width="1"/>
<line x1="355.30" y1="566.50" x2="358.80" y2="566.50" stroke="#231f20" stroke-width="1"/>
<line x1="355.30" y1="590.50" x2="358.80" y2="590.50" stroke="#231f20" stroke-width="1"/>
<line x1="355.30" y1="614.50" x2="358.80" y2="614.50" stroke="#231f20" stroke-width="1"/>
<line x1="355.30" y1="639.50" x2="358.80" y2="639.50" stroke="#231f20" stroke-width="1"/>
<text x="354.20" y="544.70" font-size="8.4" text-anchor="end" textLength="9.60" lengthAdjust="spacingAndGlyphs" stroke="#231f20" stroke-width="0.25">80</text>
<text x="354.20" y="569.20" font-size="8.4" text-anchor="end" textLength="9.60" lengthAdjust="spacingAndGlyphs" stroke="#231f20" stroke-width="0.25">60</text>
<text x="354.20" y="593.70" font-size="8.4" text-anchor="end" textLength="9.60" lengthAdjust="spacingAndGlyphs" stroke="#231f20" stroke-width="0.25">40</text>
<text x="354.20" y="618.00" font-size="8.4" text-anchor="end" textLength="9.60" lengthAdjust="spacingAndGlyphs" stroke="#231f20" stroke-width="0.25">20</text>
<text x="354.00" y="642.30" font-size="8.4" text-anchor="end" stroke="#231f20" stroke-width="0.25">0</text>
<line x1="358.30" y1="639.50" x2="425.40" y2="639.50" stroke="#231f20" stroke-width="1"/>
<text x="368.80" y="650.00" font-size="8.4" text-anchor="middle" stroke="#231f20" stroke-width="0.25">4</text>
<text x="384.50" y="650.00" font-size="8.4" text-anchor="middle" stroke="#231f20" stroke-width="0.25">8</text>
<text x="400.50" y="650.00" font-size="8.4" text-anchor="middle" stroke="#231f20" stroke-width="0.25">12</text>
<text x="416.90" y="650.00" font-size="8.4" text-anchor="middle" stroke="#231f20" stroke-width="0.25">16</text>
<line x1="368.80" y1="576.20" x2="368.80" y2="628.50" stroke="#6283b8" stroke-width="1.5"/>
<line x1="384.50" y1="571.50" x2="384.50" y2="635.40" stroke="#6283b8" stroke-width="1.5"/>
<line x1="400.50" y1="566.20" x2="400.50" y2="633.80" stroke="#6283b8" stroke-width="1.5"/>
<line x1="416.90" y1="560.00" x2="416.90" y2="634.60" stroke="#6283b8" stroke-width="1.5"/>
<path d="M369.65 597.00h0.01 M367.97 600.00h0.01 M368.45 604.00h0.01 M368.20 612.00h0.01 M367.80 618.00h0.01 M367.51 622.00h0.01 M367.66 626.00h0.01 M369.40 632.00h0.01 M383.62 581.00h0.01 M384.32 585.00h0.01 M385.50 596.00h0.01 M383.42 603.00h0.01 M384.59 607.00h0.01 M384.78 616.00h0.01 M383.34 624.00h0.01 M383.13 631.00h0.01 M384.28 634.00h0.01 M399.49 586.00h0.01 M399.54 590.00h0.01 M402.04 596.00h0.01 M399.23 604.00h0.01 M401.49 614.00h0.01 M400.49 622.00h0.01 M401.86 632.00h0.01 M399.88 634.00h0.01 M418.15 574.00h0.01 M416.33 594.00h0.01 M416.73 604.00h0.01 M417.43 613.00h0.01 M416.93 620.00h0.01 M416.50 628.00h0.01 M416.13 633.00h0.01" stroke="#2c4e82" stroke-width="1.9" stroke-linecap="round"/>
<path d="M367.80 554.60h0.01 M367.70 588.00h0.01 M368.96 602.30h0.01 M368.63 607.70h0.01 M384.68 541.80h0.01 M385.48 588.50h0.01 M385.65 610.80h0.01 M384.80 633.00h0.01 M400.44 542.80h0.01 M399.59 558.80h0.01 M399.58 586.20h0.01 M401.61 603.10h0.01 M401.47 611.50h0.01 M401.64 632.30h0.01 M416.21 547.40h0.01 M417.28 550.80h0.01 M417.54 578.50h0.01 M415.84 599.20h0.01 M416.87 616.90h0.01 M415.76 633.00h0.01" stroke="#a8002c" stroke-width="2" stroke-linecap="round"/>
<polyline points="368.80,593.10 384.50,596.60 400.50,593.80 416.90,590.80" stroke="#a8002c" stroke-width="1.8" fill="none"/>
<polyline points="368.80,615.40 384.50,611.10 400.50,607.70 416.90,605.80" stroke="#2c4e82" stroke-width="1.8" fill="none"/>
<text x="293.80" y="538.40" font-size="8.4" textLength="10.60" lengthAdjust="spacingAndGlyphs" stroke="#231f20" stroke-width="0.25">NS</text>
<path d="M369.5 593.5H371.6V614.2H369.5" stroke="#444" stroke-width="1" fill="none"/>
<path d="M417.3 590.8H419.6V606.2H417.3" stroke="#444" stroke-width="1" fill="none"/>
<text x="340.80" y="606.90" font-size="8.4" textLength="28.00" lengthAdjust="spacingAndGlyphs" stroke="#231f20" stroke-width="0.25">p &lt; 0.01</text>
<text x="422.40" y="601.20" font-size="8.4" textLength="10.40" lengthAdjust="spacingAndGlyphs" stroke="#231f20" stroke-width="0.25">NS</text>
<text x="245.30" y="576.50" font-size="8.5" text-anchor="middle" textLength="71.00" lengthAdjust="spacingAndGlyphs" transform="rotate(-90 245.30 576.50)" stroke="#231f20" stroke-width="0.25">% donor cells (Ly5.2)</text>
<text x="298.80" y="662.50" font-size="8.8" textLength="93.10" lengthAdjust="spacingAndGlyphs" stroke="#231f20" stroke-width="0.25">Weeks post-transplantation</text>
<line x1="301.50" y1="675.80" x2="326.50" y2="675.80" stroke="#2c4e82" stroke-width="1.9"/>
<line x1="301.50" y1="687.30" x2="326.50" y2="687.30" stroke="#a8002c" stroke-width="1.9"/>
<text x="330.10" y="678.10" font-size="8.1" textLength="21.40" lengthAdjust="spacingAndGlyphs" font-style="italic" stroke="#231f20" stroke-width="0.25">Runx1</text>
<text x="351.50" y="675.30" font-size="5.7" textLength="8.80" lengthAdjust="spacingAndGlyphs" font-style="italic" stroke="#231f20" stroke-width="0.12">+/+</text>
<text x="330.10" y="689.50" font-size="8.1" textLength="21.40" lengthAdjust="spacingAndGlyphs" font-style="italic" stroke="#231f20" stroke-width="0.25">Runx1</text>
<text x="351.50" y="686.70" font-size="5.7" textLength="38.10" lengthAdjust="spacingAndGlyphs" font-style="italic" stroke="#231f20" stroke-width="0.12">KTAMK/KTAMK</text>
<rect x="0.5" y="0.5" width="519" height="711" fill="none" stroke="#000" stroke-width="1"/>
</svg>
</body></html>
